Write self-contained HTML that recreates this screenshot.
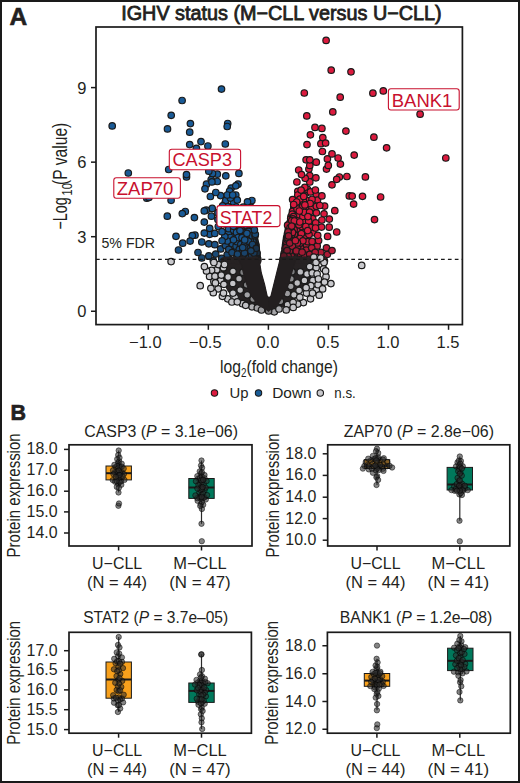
<!DOCTYPE html>
<html><head><meta charset="utf-8"><style>
html,body{margin:0;padding:0;background:#fff;}
body{width:520px;height:783px;overflow:hidden;}
svg{display:block;font-family:"Liberation Sans",sans-serif;}
</style></head><body>
<svg width="520" height="783" viewBox="0 0 520 783">
<rect x="1" y="1" width="518" height="781" fill="#fff" stroke="#1a1a1a" stroke-width="2"/>
<text x="9.5" y="24.5" font-size="24.5" fill="#231f20" font-weight="bold" stroke="#231f20" stroke-width="0.6">A</text>
<text x="121.2" y="20.2" font-size="20" fill="#231f20" textLength="320.5" lengthAdjust="spacingAndGlyphs" stroke="#231f20" stroke-width="0.8">IGHV status (M−CLL versus U−CLL)</text>
<circle cx="245.9" cy="217.1" r="3.25" fill="#195a96" stroke="#1a1a1a" stroke-width="1.2"/>
<circle cx="232.5" cy="206.4" r="3.25" fill="#195a96" stroke="#1a1a1a" stroke-width="1.2"/>
<circle cx="235.4" cy="250.0" r="3.25" fill="#194b79" stroke="#1a1a1a" stroke-width="1.2"/>
<circle cx="182.1" cy="100.5" r="3.25" fill="#195a96" stroke="#1a1a1a" stroke-width="1.2"/>
<circle cx="255.2" cy="243.2" r="3.25" fill="#193b5a" stroke="#1a1a1a" stroke-width="1.2"/>
<circle cx="225.2" cy="202.4" r="3.25" fill="#195a96" stroke="#1a1a1a" stroke-width="1.2"/>
<circle cx="208.8" cy="243.8" r="3.25" fill="#195389" stroke="#1a1a1a" stroke-width="1.2"/>
<circle cx="217.9" cy="212.7" r="3.25" fill="#195a96" stroke="#1a1a1a" stroke-width="1.2"/>
<circle cx="232.1" cy="243.7" r="3.25" fill="#195286" stroke="#1a1a1a" stroke-width="1.2"/>
<circle cx="196.4" cy="148.3" r="3.25" fill="#195a96" stroke="#1a1a1a" stroke-width="1.2"/>
<circle cx="251.9" cy="200.5" r="3.25" fill="#195a96" stroke="#1a1a1a" stroke-width="1.2"/>
<circle cx="228.4" cy="233.3" r="3.25" fill="#195a95" stroke="#1a1a1a" stroke-width="1.2"/>
<circle cx="241.7" cy="258.8" r="3.25" fill="#193f62" stroke="#1a1a1a" stroke-width="1.2"/>
<circle cx="251.0" cy="207.3" r="3.25" fill="#195a96" stroke="#1a1a1a" stroke-width="1.2"/>
<circle cx="234.3" cy="235.9" r="3.25" fill="#195994" stroke="#1a1a1a" stroke-width="1.2"/>
<circle cx="255.9" cy="245.9" r="3.25" fill="#1a3651" stroke="#1a1a1a" stroke-width="1.2"/>
<circle cx="189.7" cy="132.2" r="3.25" fill="#195a96" stroke="#1a1a1a" stroke-width="1.2"/>
<circle cx="236.1" cy="246.2" r="3.25" fill="#194f80" stroke="#1a1a1a" stroke-width="1.2"/>
<circle cx="248.7" cy="221.6" r="3.25" fill="#195a96" stroke="#1a1a1a" stroke-width="1.2"/>
<circle cx="146.8" cy="198.2" r="3.25" fill="#195a96" stroke="#1a1a1a" stroke-width="1.2"/>
<circle cx="240.6" cy="240.4" r="3.25" fill="#19558b" stroke="#1a1a1a" stroke-width="1.2"/>
<circle cx="251.1" cy="253.2" r="3.25" fill="#193e5f" stroke="#1a1a1a" stroke-width="1.2"/>
<circle cx="245.3" cy="220.1" r="3.25" fill="#195a96" stroke="#1a1a1a" stroke-width="1.2"/>
<circle cx="235.7" cy="223.2" r="3.25" fill="#195a96" stroke="#1a1a1a" stroke-width="1.2"/>
<circle cx="238.3" cy="219.2" r="3.25" fill="#195a96" stroke="#1a1a1a" stroke-width="1.2"/>
<circle cx="231.2" cy="188.1" r="3.25" fill="#195a96" stroke="#1a1a1a" stroke-width="1.2"/>
<circle cx="253.2" cy="222.7" r="3.25" fill="#195994" stroke="#1a1a1a" stroke-width="1.2"/>
<circle cx="224.8" cy="218.8" r="3.25" fill="#195a96" stroke="#1a1a1a" stroke-width="1.2"/>
<circle cx="217.3" cy="174.2" r="3.25" fill="#195a96" stroke="#1a1a1a" stroke-width="1.2"/>
<circle cx="220.6" cy="195.6" r="3.25" fill="#195a96" stroke="#1a1a1a" stroke-width="1.2"/>
<circle cx="223.9" cy="213.7" r="3.25" fill="#195a96" stroke="#1a1a1a" stroke-width="1.2"/>
<circle cx="252.9" cy="230.6" r="3.25" fill="#194f81" stroke="#1a1a1a" stroke-width="1.2"/>
<circle cx="254.2" cy="238.2" r="3.25" fill="#19446b" stroke="#1a1a1a" stroke-width="1.2"/>
<circle cx="211.2" cy="179.6" r="3.25" fill="#195a96" stroke="#1a1a1a" stroke-width="1.2"/>
<circle cx="171.1" cy="200.3" r="3.25" fill="#195a96" stroke="#1a1a1a" stroke-width="1.2"/>
<circle cx="217.9" cy="219.6" r="3.25" fill="#195a96" stroke="#1a1a1a" stroke-width="1.2"/>
<circle cx="252.1" cy="227.2" r="3.25" fill="#19548a" stroke="#1a1a1a" stroke-width="1.2"/>
<circle cx="171.2" cy="115.3" r="3.25" fill="#195a96" stroke="#1a1a1a" stroke-width="1.2"/>
<circle cx="251.8" cy="214.3" r="3.25" fill="#195a96" stroke="#1a1a1a" stroke-width="1.2"/>
<circle cx="248.2" cy="244.2" r="3.25" fill="#194d7e" stroke="#1a1a1a" stroke-width="1.2"/>
<circle cx="244.6" cy="250.2" r="3.25" fill="#194771" stroke="#1a1a1a" stroke-width="1.2"/>
<circle cx="228.9" cy="214.3" r="3.25" fill="#195a96" stroke="#1a1a1a" stroke-width="1.2"/>
<circle cx="236.6" cy="228.2" r="3.25" fill="#195994" stroke="#1a1a1a" stroke-width="1.2"/>
<circle cx="240.4" cy="235.1" r="3.25" fill="#195791" stroke="#1a1a1a" stroke-width="1.2"/>
<circle cx="228.6" cy="228.7" r="3.25" fill="#195a95" stroke="#1a1a1a" stroke-width="1.2"/>
<circle cx="233.7" cy="230.3" r="3.25" fill="#195995" stroke="#1a1a1a" stroke-width="1.2"/>
<circle cx="237.2" cy="241.7" r="3.25" fill="#195389" stroke="#1a1a1a" stroke-width="1.2"/>
<circle cx="243.3" cy="233.2" r="3.25" fill="#19578f" stroke="#1a1a1a" stroke-width="1.2"/>
<circle cx="241.8" cy="222.1" r="3.25" fill="#195a96" stroke="#1a1a1a" stroke-width="1.2"/>
<circle cx="245.4" cy="231.1" r="3.25" fill="#19568e" stroke="#1a1a1a" stroke-width="1.2"/>
<circle cx="201.0" cy="141.6" r="3.25" fill="#195a96" stroke="#1a1a1a" stroke-width="1.2"/>
<circle cx="240.8" cy="244.3" r="3.25" fill="#195082" stroke="#1a1a1a" stroke-width="1.2"/>
<circle cx="245.7" cy="247.1" r="3.25" fill="#194a78" stroke="#1a1a1a" stroke-width="1.2"/>
<circle cx="254.6" cy="239.6" r="3.25" fill="#194166" stroke="#1a1a1a" stroke-width="1.2"/>
<circle cx="249.1" cy="260.5" r="3.25" fill="#1a3957" stroke="#1a1a1a" stroke-width="1.2"/>
<circle cx="245.9" cy="228.4" r="3.25" fill="#195790" stroke="#1a1a1a" stroke-width="1.2"/>
<circle cx="128.3" cy="173.0" r="3.25" fill="#195a96" stroke="#1a1a1a" stroke-width="1.2"/>
<circle cx="242.9" cy="229.7" r="3.25" fill="#195891" stroke="#1a1a1a" stroke-width="1.2"/>
<circle cx="168.7" cy="169.5" r="3.25" fill="#195a96" stroke="#1a1a1a" stroke-width="1.2"/>
<circle cx="239.3" cy="249.3" r="3.25" fill="#194a77" stroke="#1a1a1a" stroke-width="1.2"/>
<circle cx="214.8" cy="244.7" r="3.25" fill="#195287" stroke="#1a1a1a" stroke-width="1.2"/>
<circle cx="256.4" cy="256.3" r="3.25" fill="#1a3248" stroke="#1a1a1a" stroke-width="1.2"/>
<circle cx="252.1" cy="239.3" r="3.25" fill="#194974" stroke="#1a1a1a" stroke-width="1.2"/>
<circle cx="209.7" cy="234.3" r="3.25" fill="#195a96" stroke="#1a1a1a" stroke-width="1.2"/>
<circle cx="252.7" cy="250.5" r="3.25" fill="#194165" stroke="#1a1a1a" stroke-width="1.2"/>
<circle cx="236.6" cy="258.2" r="3.25" fill="#194267" stroke="#1a1a1a" stroke-width="1.2"/>
<circle cx="206.5" cy="184.2" r="3.25" fill="#195a96" stroke="#1a1a1a" stroke-width="1.2"/>
<circle cx="250.4" cy="209.5" r="3.25" fill="#195a96" stroke="#1a1a1a" stroke-width="1.2"/>
<circle cx="252.0" cy="217.4" r="3.25" fill="#195a96" stroke="#1a1a1a" stroke-width="1.2"/>
<circle cx="148.9" cy="197.5" r="3.25" fill="#195a96" stroke="#1a1a1a" stroke-width="1.2"/>
<circle cx="257.4" cy="257.7" r="3.25" fill="#1a2d3f" stroke="#1a1a1a" stroke-width="1.2"/>
<circle cx="250.5" cy="234.6" r="3.25" fill="#194f81" stroke="#1a1a1a" stroke-width="1.2"/>
<circle cx="241.3" cy="253.2" r="3.25" fill="#19456d" stroke="#1a1a1a" stroke-width="1.2"/>
<circle cx="250.0" cy="228.6" r="3.25" fill="#19548b" stroke="#1a1a1a" stroke-width="1.2"/>
<circle cx="243.6" cy="226.5" r="3.25" fill="#195893" stroke="#1a1a1a" stroke-width="1.2"/>
<circle cx="252.9" cy="232.4" r="3.25" fill="#194d7d" stroke="#1a1a1a" stroke-width="1.2"/>
<circle cx="248.4" cy="227.4" r="3.25" fill="#19568f" stroke="#1a1a1a" stroke-width="1.2"/>
<circle cx="210.4" cy="196.5" r="3.25" fill="#195a96" stroke="#1a1a1a" stroke-width="1.2"/>
<circle cx="246.7" cy="225.7" r="3.25" fill="#195892" stroke="#1a1a1a" stroke-width="1.2"/>
<circle cx="251.0" cy="219.1" r="3.25" fill="#195a96" stroke="#1a1a1a" stroke-width="1.2"/>
<circle cx="248.6" cy="213.2" r="3.25" fill="#195a96" stroke="#1a1a1a" stroke-width="1.2"/>
<circle cx="242.4" cy="218.9" r="3.25" fill="#195a96" stroke="#1a1a1a" stroke-width="1.2"/>
<circle cx="233.5" cy="201.9" r="3.25" fill="#195a96" stroke="#1a1a1a" stroke-width="1.2"/>
<circle cx="249.7" cy="246.0" r="3.25" fill="#194a77" stroke="#1a1a1a" stroke-width="1.2"/>
<circle cx="204.3" cy="233.1" r="3.25" fill="#195a96" stroke="#1a1a1a" stroke-width="1.2"/>
<circle cx="256.3" cy="250.0" r="3.25" fill="#1a3045" stroke="#1a1a1a" stroke-width="1.2"/>
<circle cx="252.5" cy="234.0" r="3.25" fill="#194c7c" stroke="#1a1a1a" stroke-width="1.2"/>
<circle cx="250.6" cy="232.4" r="3.25" fill="#195184" stroke="#1a1a1a" stroke-width="1.2"/>
<circle cx="240.2" cy="226.3" r="3.25" fill="#195994" stroke="#1a1a1a" stroke-width="1.2"/>
<circle cx="247.4" cy="207.1" r="3.25" fill="#195a96" stroke="#1a1a1a" stroke-width="1.2"/>
<circle cx="255.8" cy="244.4" r="3.25" fill="#1a3955" stroke="#1a1a1a" stroke-width="1.2"/>
<circle cx="250.6" cy="237.8" r="3.25" fill="#194d7d" stroke="#1a1a1a" stroke-width="1.2"/>
<circle cx="248.7" cy="219.1" r="3.25" fill="#195a96" stroke="#1a1a1a" stroke-width="1.2"/>
<circle cx="204.3" cy="222.1" r="3.25" fill="#195a96" stroke="#1a1a1a" stroke-width="1.2"/>
<circle cx="205.0" cy="188.8" r="3.25" fill="#195a96" stroke="#1a1a1a" stroke-width="1.2"/>
<circle cx="213.3" cy="260.8" r="3.25" fill="#194771" stroke="#1a1a1a" stroke-width="1.2"/>
<circle cx="245.5" cy="256.5" r="3.25" fill="#193e60" stroke="#1a1a1a" stroke-width="1.2"/>
<circle cx="186.5" cy="177.0" r="3.25" fill="#195a96" stroke="#1a1a1a" stroke-width="1.2"/>
<circle cx="254.2" cy="236.8" r="3.25" fill="#19456e" stroke="#1a1a1a" stroke-width="1.2"/>
<circle cx="249.5" cy="224.0" r="3.25" fill="#195893" stroke="#1a1a1a" stroke-width="1.2"/>
<circle cx="212.2" cy="208.4" r="3.25" fill="#195a96" stroke="#1a1a1a" stroke-width="1.2"/>
<circle cx="189.7" cy="144.6" r="3.25" fill="#195a96" stroke="#1a1a1a" stroke-width="1.2"/>
<circle cx="236.5" cy="232.5" r="3.25" fill="#195994" stroke="#1a1a1a" stroke-width="1.2"/>
<circle cx="195.0" cy="235.2" r="3.25" fill="#195a96" stroke="#1a1a1a" stroke-width="1.2"/>
<circle cx="250.8" cy="244.2" r="3.25" fill="#194975" stroke="#1a1a1a" stroke-width="1.2"/>
<circle cx="221.5" cy="89.1" r="3.25" fill="#195a96" stroke="#1a1a1a" stroke-width="1.2"/>
<circle cx="185.3" cy="211.5" r="3.25" fill="#195a96" stroke="#1a1a1a" stroke-width="1.2"/>
<circle cx="241.6" cy="214.6" r="3.25" fill="#195a96" stroke="#1a1a1a" stroke-width="1.2"/>
<circle cx="225.8" cy="200.4" r="3.25" fill="#195a96" stroke="#1a1a1a" stroke-width="1.2"/>
<circle cx="256.8" cy="254.4" r="3.25" fill="#1a2d3f" stroke="#1a1a1a" stroke-width="1.2"/>
<circle cx="248.6" cy="235.4" r="3.25" fill="#195185" stroke="#1a1a1a" stroke-width="1.2"/>
<circle cx="230.4" cy="237.5" r="3.25" fill="#195893" stroke="#1a1a1a" stroke-width="1.2"/>
<circle cx="250.2" cy="226.4" r="3.25" fill="#19568e" stroke="#1a1a1a" stroke-width="1.2"/>
<circle cx="167.3" cy="216.2" r="3.25" fill="#195a96" stroke="#1a1a1a" stroke-width="1.2"/>
<circle cx="244.9" cy="214.2" r="3.25" fill="#195a96" stroke="#1a1a1a" stroke-width="1.2"/>
<circle cx="220.7" cy="248.9" r="3.25" fill="#194e7f" stroke="#1a1a1a" stroke-width="1.2"/>
<circle cx="249.6" cy="254.9" r="3.25" fill="#193d5e" stroke="#1a1a1a" stroke-width="1.2"/>
<circle cx="234.8" cy="217.2" r="3.25" fill="#195a96" stroke="#1a1a1a" stroke-width="1.2"/>
<circle cx="251.1" cy="230.2" r="3.25" fill="#195286" stroke="#1a1a1a" stroke-width="1.2"/>
<circle cx="254.9" cy="241.7" r="3.25" fill="#193e5f" stroke="#1a1a1a" stroke-width="1.2"/>
<circle cx="249.2" cy="239.1" r="3.25" fill="#194f80" stroke="#1a1a1a" stroke-width="1.2"/>
<circle cx="209.7" cy="228.3" r="3.25" fill="#195a96" stroke="#1a1a1a" stroke-width="1.2"/>
<circle cx="238.9" cy="173.4" r="3.25" fill="#195a96" stroke="#1a1a1a" stroke-width="1.2"/>
<circle cx="253.5" cy="254.9" r="3.25" fill="#1a3855" stroke="#1a1a1a" stroke-width="1.2"/>
<circle cx="254.3" cy="251.2" r="3.25" fill="#1a3a57" stroke="#1a1a1a" stroke-width="1.2"/>
<circle cx="245.1" cy="210.5" r="3.25" fill="#195a96" stroke="#1a1a1a" stroke-width="1.2"/>
<circle cx="215.8" cy="192.5" r="3.25" fill="#195a96" stroke="#1a1a1a" stroke-width="1.2"/>
<circle cx="249.7" cy="216.4" r="3.25" fill="#195a96" stroke="#1a1a1a" stroke-width="1.2"/>
<circle cx="253.7" cy="235.1" r="3.25" fill="#194974" stroke="#1a1a1a" stroke-width="1.2"/>
<circle cx="206.2" cy="210.2" r="3.25" fill="#195a96" stroke="#1a1a1a" stroke-width="1.2"/>
<circle cx="248.2" cy="250.4" r="3.25" fill="#19446c" stroke="#1a1a1a" stroke-width="1.2"/>
<circle cx="244.8" cy="244.0" r="3.25" fill="#194f80" stroke="#1a1a1a" stroke-width="1.2"/>
<circle cx="251.5" cy="242.3" r="3.25" fill="#194874" stroke="#1a1a1a" stroke-width="1.2"/>
<circle cx="255.8" cy="260.8" r="3.25" fill="#1a3045" stroke="#1a1a1a" stroke-width="1.2"/>
<circle cx="253.7" cy="242.6" r="3.25" fill="#194166" stroke="#1a1a1a" stroke-width="1.2"/>
<circle cx="212.5" cy="173.5" r="3.25" fill="#195a96" stroke="#1a1a1a" stroke-width="1.2"/>
<circle cx="224.5" cy="223.9" r="3.25" fill="#195a96" stroke="#1a1a1a" stroke-width="1.2"/>
<circle cx="235.8" cy="195.0" r="3.25" fill="#195a96" stroke="#1a1a1a" stroke-width="1.2"/>
<circle cx="251.6" cy="211.2" r="3.25" fill="#195a96" stroke="#1a1a1a" stroke-width="1.2"/>
<circle cx="182.7" cy="243.2" r="3.25" fill="#19548b" stroke="#1a1a1a" stroke-width="1.2"/>
<circle cx="239.4" cy="210.2" r="3.25" fill="#195a96" stroke="#1a1a1a" stroke-width="1.2"/>
<circle cx="225.8" cy="175.8" r="3.25" fill="#195a96" stroke="#1a1a1a" stroke-width="1.2"/>
<circle cx="253.7" cy="228.4" r="3.25" fill="#195184" stroke="#1a1a1a" stroke-width="1.2"/>
<circle cx="229.6" cy="191.2" r="3.25" fill="#195a96" stroke="#1a1a1a" stroke-width="1.2"/>
<circle cx="251.8" cy="257.9" r="3.25" fill="#1a3650" stroke="#1a1a1a" stroke-width="1.2"/>
<circle cx="254.1" cy="233.7" r="3.25" fill="#194976" stroke="#1a1a1a" stroke-width="1.2"/>
<circle cx="176.0" cy="236.3" r="3.25" fill="#195a96" stroke="#1a1a1a" stroke-width="1.2"/>
<circle cx="254.4" cy="245.1" r="3.25" fill="#193c5d" stroke="#1a1a1a" stroke-width="1.2"/>
<circle cx="254.8" cy="249.2" r="3.25" fill="#1a3855" stroke="#1a1a1a" stroke-width="1.2"/>
<circle cx="254.5" cy="256.3" r="3.25" fill="#1a354e" stroke="#1a1a1a" stroke-width="1.2"/>
<circle cx="192.3" cy="235.6" r="3.25" fill="#195a96" stroke="#1a1a1a" stroke-width="1.2"/>
<circle cx="227.7" cy="123.5" r="3.25" fill="#195a96" stroke="#1a1a1a" stroke-width="1.2"/>
<circle cx="233.1" cy="211.7" r="3.25" fill="#195a96" stroke="#1a1a1a" stroke-width="1.2"/>
<circle cx="230.4" cy="198.1" r="3.25" fill="#195a96" stroke="#1a1a1a" stroke-width="1.2"/>
<circle cx="217.3" cy="181.5" r="3.25" fill="#195a96" stroke="#1a1a1a" stroke-width="1.2"/>
<circle cx="255.5" cy="258.6" r="3.25" fill="#1a3146" stroke="#1a1a1a" stroke-width="1.2"/>
<circle cx="252.6" cy="237.3" r="3.25" fill="#194975" stroke="#1a1a1a" stroke-width="1.2"/>
<circle cx="247.2" cy="253.3" r="3.25" fill="#194166" stroke="#1a1a1a" stroke-width="1.2"/>
<circle cx="236.4" cy="207.0" r="3.25" fill="#195a96" stroke="#1a1a1a" stroke-width="1.2"/>
<circle cx="244.5" cy="236.1" r="3.25" fill="#19558c" stroke="#1a1a1a" stroke-width="1.2"/>
<circle cx="190.4" cy="123.6" r="3.25" fill="#195a96" stroke="#1a1a1a" stroke-width="1.2"/>
<circle cx="211.4" cy="216.2" r="3.25" fill="#195a96" stroke="#1a1a1a" stroke-width="1.2"/>
<circle cx="247.9" cy="247.8" r="3.25" fill="#194874" stroke="#1a1a1a" stroke-width="1.2"/>
<circle cx="225.5" cy="245.4" r="3.25" fill="#195185" stroke="#1a1a1a" stroke-width="1.2"/>
<circle cx="227.3" cy="195.0" r="3.25" fill="#195a96" stroke="#1a1a1a" stroke-width="1.2"/>
<circle cx="247.4" cy="237.4" r="3.25" fill="#195286" stroke="#1a1a1a" stroke-width="1.2"/>
<circle cx="251.5" cy="223.6" r="3.25" fill="#195892" stroke="#1a1a1a" stroke-width="1.2"/>
<circle cx="227.3" cy="241.0" r="3.25" fill="#19558c" stroke="#1a1a1a" stroke-width="1.2"/>
<circle cx="230.0" cy="259.7" r="3.25" fill="#19446c" stroke="#1a1a1a" stroke-width="1.2"/>
<circle cx="250.4" cy="248.1" r="3.25" fill="#194670" stroke="#1a1a1a" stroke-width="1.2"/>
<circle cx="252.9" cy="241.3" r="3.25" fill="#19456d" stroke="#1a1a1a" stroke-width="1.2"/>
<circle cx="218.3" cy="226.5" r="3.25" fill="#195a96" stroke="#1a1a1a" stroke-width="1.2"/>
<circle cx="227.2" cy="254.7" r="3.25" fill="#194873" stroke="#1a1a1a" stroke-width="1.2"/>
<circle cx="255.8" cy="251.2" r="3.25" fill="#1a3249" stroke="#1a1a1a" stroke-width="1.2"/>
<circle cx="227.2" cy="126.5" r="3.25" fill="#195a96" stroke="#1a1a1a" stroke-width="1.2"/>
<circle cx="211.9" cy="181.9" r="3.25" fill="#195a96" stroke="#1a1a1a" stroke-width="1.2"/>
<circle cx="255.3" cy="253.8" r="3.25" fill="#1a364f" stroke="#1a1a1a" stroke-width="1.2"/>
<circle cx="238.2" cy="237.5" r="3.25" fill="#195892" stroke="#1a1a1a" stroke-width="1.2"/>
<circle cx="233.4" cy="226.3" r="3.25" fill="#195a95" stroke="#1a1a1a" stroke-width="1.2"/>
<circle cx="238.0" cy="184.2" r="3.25" fill="#195a96" stroke="#1a1a1a" stroke-width="1.2"/>
<circle cx="254.2" cy="232.0" r="3.25" fill="#194b79" stroke="#1a1a1a" stroke-width="1.2"/>
<circle cx="257.1" cy="253.0" r="3.25" fill="#1a2d3f" stroke="#1a1a1a" stroke-width="1.2"/>
<circle cx="242.0" cy="237.6" r="3.25" fill="#19568f" stroke="#1a1a1a" stroke-width="1.2"/>
<circle cx="233.5" cy="239.8" r="3.25" fill="#19568e" stroke="#1a1a1a" stroke-width="1.2"/>
<circle cx="250.3" cy="240.6" r="3.25" fill="#194c7b" stroke="#1a1a1a" stroke-width="1.2"/>
<circle cx="257.6" cy="259.2" r="3.25" fill="#1a2d3f" stroke="#1a1a1a" stroke-width="1.2"/>
<circle cx="244.7" cy="260.4" r="3.25" fill="#193d5e" stroke="#1a1a1a" stroke-width="1.2"/>
<circle cx="198.0" cy="252.5" r="3.25" fill="#194c7b" stroke="#1a1a1a" stroke-width="1.2"/>
<circle cx="253.1" cy="248.5" r="3.25" fill="#194063" stroke="#1a1a1a" stroke-width="1.2"/>
<circle cx="252.9" cy="219.7" r="3.25" fill="#195a96" stroke="#1a1a1a" stroke-width="1.2"/>
<circle cx="221.7" cy="258.4" r="3.25" fill="#19466f" stroke="#1a1a1a" stroke-width="1.2"/>
<circle cx="190.1" cy="241.1" r="3.25" fill="#19568e" stroke="#1a1a1a" stroke-width="1.2"/>
<circle cx="228.8" cy="249.3" r="3.25" fill="#194d7c" stroke="#1a1a1a" stroke-width="1.2"/>
<circle cx="252.9" cy="246.4" r="3.25" fill="#194267" stroke="#1a1a1a" stroke-width="1.2"/>
<circle cx="249.0" cy="257.7" r="3.25" fill="#1a3a57" stroke="#1a1a1a" stroke-width="1.2"/>
<circle cx="232.0" cy="252.6" r="3.25" fill="#194975" stroke="#1a1a1a" stroke-width="1.2"/>
<circle cx="253.7" cy="258.0" r="3.25" fill="#1a334b" stroke="#1a1a1a" stroke-width="1.2"/>
<circle cx="214.8" cy="233.4" r="3.25" fill="#195a96" stroke="#1a1a1a" stroke-width="1.2"/>
<circle cx="238.5" cy="214.8" r="3.25" fill="#195a96" stroke="#1a1a1a" stroke-width="1.2"/>
<circle cx="248.4" cy="241.1" r="3.25" fill="#194f81" stroke="#1a1a1a" stroke-width="1.2"/>
<circle cx="254.7" cy="246.9" r="3.25" fill="#1a3a58" stroke="#1a1a1a" stroke-width="1.2"/>
<circle cx="251.6" cy="255.8" r="3.25" fill="#1a3957" stroke="#1a1a1a" stroke-width="1.2"/>
<circle cx="253.9" cy="253.0" r="3.25" fill="#193b5a" stroke="#1a1a1a" stroke-width="1.2"/>
<circle cx="252.5" cy="244.5" r="3.25" fill="#19446b" stroke="#1a1a1a" stroke-width="1.2"/>
<circle cx="227.7" cy="206.7" r="3.25" fill="#195a96" stroke="#1a1a1a" stroke-width="1.2"/>
<circle cx="237.3" cy="200.1" r="3.25" fill="#195a96" stroke="#1a1a1a" stroke-width="1.2"/>
<circle cx="208.8" cy="255.9" r="3.25" fill="#194975" stroke="#1a1a1a" stroke-width="1.2"/>
<circle cx="224.8" cy="236.6" r="3.25" fill="#195995" stroke="#1a1a1a" stroke-width="1.2"/>
<circle cx="204.3" cy="210.9" r="3.25" fill="#195a96" stroke="#1a1a1a" stroke-width="1.2"/>
<circle cx="248.6" cy="231.4" r="3.25" fill="#19548a" stroke="#1a1a1a" stroke-width="1.2"/>
<circle cx="248.0" cy="209.8" r="3.25" fill="#195a96" stroke="#1a1a1a" stroke-width="1.2"/>
<circle cx="222.6" cy="205.9" r="3.25" fill="#195a96" stroke="#1a1a1a" stroke-width="1.2"/>
<circle cx="250.9" cy="221.1" r="3.25" fill="#195a96" stroke="#1a1a1a" stroke-width="1.2"/>
<circle cx="207.9" cy="146.0" r="3.25" fill="#195a96" stroke="#1a1a1a" stroke-width="1.2"/>
<circle cx="244.4" cy="253.0" r="3.25" fill="#19436a" stroke="#1a1a1a" stroke-width="1.2"/>
<circle cx="112.2" cy="125.9" r="3.25" fill="#195a96" stroke="#1a1a1a" stroke-width="1.2"/>
<circle cx="235.8" cy="185.8" r="3.25" fill="#195a96" stroke="#1a1a1a" stroke-width="1.2"/>
<circle cx="252.1" cy="235.7" r="3.25" fill="#194c7a" stroke="#1a1a1a" stroke-width="1.2"/>
<circle cx="247.5" cy="201.8" r="3.25" fill="#195a96" stroke="#1a1a1a" stroke-width="1.2"/>
<circle cx="194.4" cy="217.6" r="3.25" fill="#195a96" stroke="#1a1a1a" stroke-width="1.2"/>
<circle cx="232.7" cy="195.0" r="3.25" fill="#195a96" stroke="#1a1a1a" stroke-width="1.2"/>
<circle cx="178.5" cy="250.0" r="3.25" fill="#194f80" stroke="#1a1a1a" stroke-width="1.2"/>
<circle cx="208.8" cy="171.2" r="3.25" fill="#195a96" stroke="#1a1a1a" stroke-width="1.2"/>
<circle cx="251.7" cy="260.8" r="3.25" fill="#1a3651" stroke="#1a1a1a" stroke-width="1.2"/>
<circle cx="243.2" cy="207.2" r="3.25" fill="#195a96" stroke="#1a1a1a" stroke-width="1.2"/>
<circle cx="182.3" cy="213.6" r="3.25" fill="#195a96" stroke="#1a1a1a" stroke-width="1.2"/>
<circle cx="254.0" cy="260.0" r="3.25" fill="#1a334b" stroke="#1a1a1a" stroke-width="1.2"/>
<circle cx="242.7" cy="247.6" r="3.25" fill="#194b79" stroke="#1a1a1a" stroke-width="1.2"/>
<circle cx="255.0" cy="235.7" r="3.25" fill="#19466e" stroke="#1a1a1a" stroke-width="1.2"/>
<circle cx="222.1" cy="240.8" r="3.25" fill="#19568d" stroke="#1a1a1a" stroke-width="1.2"/>
<circle cx="244.7" cy="239.9" r="3.25" fill="#19548a" stroke="#1a1a1a" stroke-width="1.2"/>
<circle cx="186.5" cy="174.6" r="3.25" fill="#195a96" stroke="#1a1a1a" stroke-width="1.2"/>
<circle cx="257.5" cy="260.6" r="3.25" fill="#1a2d3f" stroke="#1a1a1a" stroke-width="1.2"/>
<circle cx="256.2" cy="248.3" r="3.25" fill="#1a334a" stroke="#1a1a1a" stroke-width="1.2"/>
<circle cx="230.1" cy="221.1" r="3.25" fill="#195a96" stroke="#1a1a1a" stroke-width="1.2"/>
<circle cx="237.5" cy="254.1" r="3.25" fill="#19466f" stroke="#1a1a1a" stroke-width="1.2"/>
<circle cx="225.3" cy="144.0" r="3.25" fill="#195a96" stroke="#1a1a1a" stroke-width="1.2"/>
<circle cx="222.0" cy="231.7" r="3.25" fill="#195a96" stroke="#1a1a1a" stroke-width="1.2"/>
<circle cx="240.0" cy="230.6" r="3.25" fill="#195893" stroke="#1a1a1a" stroke-width="1.2"/>
<circle cx="201.8" cy="242.0" r="3.25" fill="#19558c" stroke="#1a1a1a" stroke-width="1.2"/>
<circle cx="244.4" cy="223.6" r="3.25" fill="#195995" stroke="#1a1a1a" stroke-width="1.2"/>
<circle cx="201.8" cy="258.0" r="3.25" fill="#194872" stroke="#1a1a1a" stroke-width="1.2"/>
<circle cx="253.5" cy="225.7" r="3.25" fill="#19548b" stroke="#1a1a1a" stroke-width="1.2"/>
<circle cx="167.5" cy="128.9" r="3.25" fill="#195a96" stroke="#1a1a1a" stroke-width="1.2"/>
<circle cx="255.3" cy="234.3" r="3.25" fill="#194872" stroke="#1a1a1a" stroke-width="1.2"/>
<circle cx="215.7" cy="254.1" r="3.25" fill="#194a77" stroke="#1a1a1a" stroke-width="1.2"/>
<circle cx="254.4" cy="230.0" r="3.25" fill="#194e7f" stroke="#1a1a1a" stroke-width="1.2"/>
<circle cx="250.9" cy="250.8" r="3.25" fill="#194267" stroke="#1a1a1a" stroke-width="1.2"/>
<circle cx="246.9" cy="233.3" r="3.25" fill="#19548b" stroke="#1a1a1a" stroke-width="1.2"/>
<circle cx="247.4" cy="223.3" r="3.25" fill="#195994" stroke="#1a1a1a" stroke-width="1.2"/>
<circle cx="309.8" cy="175.6" r="3.25" fill="#dc1a3e" stroke="#1a1a1a" stroke-width="1.2"/>
<circle cx="289.7" cy="234.9" r="3.25" fill="#a81a34" stroke="#1a1a1a" stroke-width="1.2"/>
<circle cx="308.9" cy="169.1" r="3.25" fill="#dc1a3e" stroke="#1a1a1a" stroke-width="1.2"/>
<circle cx="288.0" cy="254.2" r="3.25" fill="#811a2d" stroke="#1a1a1a" stroke-width="1.2"/>
<circle cx="295.8" cy="211.4" r="3.25" fill="#dc1a3e" stroke="#1a1a1a" stroke-width="1.2"/>
<circle cx="306.8" cy="115.9" r="3.25" fill="#dc1a3e" stroke="#1a1a1a" stroke-width="1.2"/>
<circle cx="284.4" cy="259.1" r="3.25" fill="#631a27" stroke="#1a1a1a" stroke-width="1.2"/>
<circle cx="306.8" cy="200.3" r="3.25" fill="#dc1a3e" stroke="#1a1a1a" stroke-width="1.2"/>
<circle cx="285.1" cy="252.3" r="3.25" fill="#671a28" stroke="#1a1a1a" stroke-width="1.2"/>
<circle cx="339.4" cy="177.0" r="3.25" fill="#dc1a3e" stroke="#1a1a1a" stroke-width="1.2"/>
<circle cx="291.0" cy="216.7" r="3.25" fill="#d61a3d" stroke="#1a1a1a" stroke-width="1.2"/>
<circle cx="320.9" cy="143.7" r="3.25" fill="#dc1a3e" stroke="#1a1a1a" stroke-width="1.2"/>
<circle cx="287.3" cy="244.1" r="3.25" fill="#851a2e" stroke="#1a1a1a" stroke-width="1.2"/>
<circle cx="312.7" cy="218.7" r="3.25" fill="#db1a3e" stroke="#1a1a1a" stroke-width="1.2"/>
<circle cx="296.8" cy="221.1" r="3.25" fill="#d31a3c" stroke="#1a1a1a" stroke-width="1.2"/>
<circle cx="340.4" cy="164.1" r="3.25" fill="#dc1a3e" stroke="#1a1a1a" stroke-width="1.2"/>
<circle cx="327.4" cy="158.9" r="3.25" fill="#dc1a3e" stroke="#1a1a1a" stroke-width="1.2"/>
<circle cx="332.0" cy="184.8" r="3.25" fill="#dc1a3e" stroke="#1a1a1a" stroke-width="1.2"/>
<circle cx="286.6" cy="237.9" r="3.25" fill="#8a1a2f" stroke="#1a1a1a" stroke-width="1.2"/>
<circle cx="288.3" cy="230.1" r="3.25" fill="#a61a34" stroke="#1a1a1a" stroke-width="1.2"/>
<circle cx="306.1" cy="193.1" r="3.25" fill="#dc1a3e" stroke="#1a1a1a" stroke-width="1.2"/>
<circle cx="302.2" cy="219.8" r="3.25" fill="#d91a3d" stroke="#1a1a1a" stroke-width="1.2"/>
<circle cx="294.3" cy="223.8" r="3.25" fill="#cb1a3b" stroke="#1a1a1a" stroke-width="1.2"/>
<circle cx="293.5" cy="236.5" r="3.25" fill="#bc1a38" stroke="#1a1a1a" stroke-width="1.2"/>
<circle cx="316.4" cy="195.1" r="3.25" fill="#dc1a3e" stroke="#1a1a1a" stroke-width="1.2"/>
<circle cx="287.4" cy="234.2" r="3.25" fill="#971a31" stroke="#1a1a1a" stroke-width="1.2"/>
<circle cx="290.8" cy="236.9" r="3.25" fill="#ad1a35" stroke="#1a1a1a" stroke-width="1.2"/>
<circle cx="289.2" cy="233.5" r="3.25" fill="#a51a34" stroke="#1a1a1a" stroke-width="1.2"/>
<circle cx="349.3" cy="195.9" r="3.25" fill="#dc1a3e" stroke="#1a1a1a" stroke-width="1.2"/>
<circle cx="288.7" cy="259.6" r="3.25" fill="#751a2b" stroke="#1a1a1a" stroke-width="1.2"/>
<circle cx="315.7" cy="222.8" r="3.25" fill="#db1a3e" stroke="#1a1a1a" stroke-width="1.2"/>
<circle cx="298.5" cy="204.2" r="3.25" fill="#dc1a3e" stroke="#1a1a1a" stroke-width="1.2"/>
<circle cx="306.6" cy="245.6" r="3.25" fill="#bb1a38" stroke="#1a1a1a" stroke-width="1.2"/>
<circle cx="340.2" cy="97.2" r="3.25" fill="#dc1a3e" stroke="#1a1a1a" stroke-width="1.2"/>
<circle cx="286.3" cy="257.1" r="3.25" fill="#6f1a2a" stroke="#1a1a1a" stroke-width="1.2"/>
<circle cx="320.9" cy="252.4" r="3.25" fill="#b11a36" stroke="#1a1a1a" stroke-width="1.2"/>
<circle cx="285.5" cy="245.4" r="3.25" fill="#6f1a2a" stroke="#1a1a1a" stroke-width="1.2"/>
<circle cx="286.3" cy="240.4" r="3.25" fill="#811a2d" stroke="#1a1a1a" stroke-width="1.2"/>
<circle cx="294.7" cy="246.7" r="3.25" fill="#ac1a35" stroke="#1a1a1a" stroke-width="1.2"/>
<circle cx="289.5" cy="252.9" r="3.25" fill="#8b1a2f" stroke="#1a1a1a" stroke-width="1.2"/>
<circle cx="289.9" cy="247.8" r="3.25" fill="#9e1a33" stroke="#1a1a1a" stroke-width="1.2"/>
<circle cx="304.3" cy="93.0" r="3.25" fill="#dc1a3e" stroke="#1a1a1a" stroke-width="1.2"/>
<circle cx="297.3" cy="234.1" r="3.25" fill="#cb1a3b" stroke="#1a1a1a" stroke-width="1.2"/>
<circle cx="295.4" cy="215.4" r="3.25" fill="#db1a3e" stroke="#1a1a1a" stroke-width="1.2"/>
<circle cx="300.8" cy="248.5" r="3.25" fill="#af1a36" stroke="#1a1a1a" stroke-width="1.2"/>
<circle cx="324.4" cy="260.9" r="3.25" fill="#a51a34" stroke="#1a1a1a" stroke-width="1.2"/>
<circle cx="302.2" cy="258.4" r="3.25" fill="#951a31" stroke="#1a1a1a" stroke-width="1.2"/>
<circle cx="321.5" cy="227.1" r="3.25" fill="#dc1a3e" stroke="#1a1a1a" stroke-width="1.2"/>
<circle cx="351.0" cy="71.8" r="3.25" fill="#dc1a3e" stroke="#1a1a1a" stroke-width="1.2"/>
<circle cx="305.3" cy="233.8" r="3.25" fill="#d61a3d" stroke="#1a1a1a" stroke-width="1.2"/>
<circle cx="292.8" cy="227.7" r="3.25" fill="#c21a39" stroke="#1a1a1a" stroke-width="1.2"/>
<circle cx="297.0" cy="218.2" r="3.25" fill="#d71a3d" stroke="#1a1a1a" stroke-width="1.2"/>
<circle cx="295.5" cy="226.0" r="3.25" fill="#cc1a3b" stroke="#1a1a1a" stroke-width="1.2"/>
<circle cx="307.7" cy="208.7" r="3.25" fill="#dc1a3e" stroke="#1a1a1a" stroke-width="1.2"/>
<circle cx="291.9" cy="230.3" r="3.25" fill="#bb1a38" stroke="#1a1a1a" stroke-width="1.2"/>
<circle cx="311.9" cy="208.1" r="3.25" fill="#dc1a3e" stroke="#1a1a1a" stroke-width="1.2"/>
<circle cx="283.4" cy="260.6" r="3.25" fill="#5e1a27" stroke="#1a1a1a" stroke-width="1.2"/>
<circle cx="305.2" cy="238.1" r="3.25" fill="#d01a3c" stroke="#1a1a1a" stroke-width="1.2"/>
<circle cx="307.6" cy="189.4" r="3.25" fill="#dc1a3e" stroke="#1a1a1a" stroke-width="1.2"/>
<circle cx="316.4" cy="212.8" r="3.25" fill="#dc1a3e" stroke="#1a1a1a" stroke-width="1.2"/>
<circle cx="292.0" cy="223.9" r="3.25" fill="#c51a3a" stroke="#1a1a1a" stroke-width="1.2"/>
<circle cx="287.3" cy="236.6" r="3.25" fill="#901a30" stroke="#1a1a1a" stroke-width="1.2"/>
<circle cx="286.9" cy="259.6" r="3.25" fill="#6e1a2a" stroke="#1a1a1a" stroke-width="1.2"/>
<circle cx="303.1" cy="230.2" r="3.25" fill="#d51a3d" stroke="#1a1a1a" stroke-width="1.2"/>
<circle cx="298.1" cy="255.6" r="3.25" fill="#961a31" stroke="#1a1a1a" stroke-width="1.2"/>
<circle cx="317.5" cy="200.1" r="3.25" fill="#dc1a3e" stroke="#1a1a1a" stroke-width="1.2"/>
<circle cx="297.9" cy="245.7" r="3.25" fill="#b41a37" stroke="#1a1a1a" stroke-width="1.2"/>
<circle cx="292.6" cy="249.0" r="3.25" fill="#a11a33" stroke="#1a1a1a" stroke-width="1.2"/>
<circle cx="293.0" cy="239.0" r="3.25" fill="#b81a37" stroke="#1a1a1a" stroke-width="1.2"/>
<circle cx="297.7" cy="236.8" r="3.25" fill="#ca1a3b" stroke="#1a1a1a" stroke-width="1.2"/>
<circle cx="352.2" cy="196.1" r="3.25" fill="#dc1a3e" stroke="#1a1a1a" stroke-width="1.2"/>
<circle cx="310.4" cy="191.9" r="3.25" fill="#dc1a3e" stroke="#1a1a1a" stroke-width="1.2"/>
<circle cx="316.3" cy="206.3" r="3.25" fill="#dc1a3e" stroke="#1a1a1a" stroke-width="1.2"/>
<circle cx="292.4" cy="260.8" r="3.25" fill="#821a2d" stroke="#1a1a1a" stroke-width="1.2"/>
<circle cx="295.8" cy="231.6" r="3.25" fill="#c81a3a" stroke="#1a1a1a" stroke-width="1.2"/>
<circle cx="294.4" cy="255.1" r="3.25" fill="#901a30" stroke="#1a1a1a" stroke-width="1.2"/>
<circle cx="300.3" cy="243.1" r="3.25" fill="#be1a39" stroke="#1a1a1a" stroke-width="1.2"/>
<circle cx="309.8" cy="182.0" r="3.25" fill="#dc1a3e" stroke="#1a1a1a" stroke-width="1.2"/>
<circle cx="298.6" cy="214.6" r="3.25" fill="#dc1a3e" stroke="#1a1a1a" stroke-width="1.2"/>
<circle cx="301.3" cy="205.3" r="3.25" fill="#dc1a3e" stroke="#1a1a1a" stroke-width="1.2"/>
<circle cx="290.7" cy="218.8" r="3.25" fill="#ce1a3b" stroke="#1a1a1a" stroke-width="1.2"/>
<circle cx="293.8" cy="206.8" r="3.25" fill="#dc1a3e" stroke="#1a1a1a" stroke-width="1.2"/>
<circle cx="304.6" cy="222.2" r="3.25" fill="#d91a3d" stroke="#1a1a1a" stroke-width="1.2"/>
<circle cx="290.1" cy="224.4" r="3.25" fill="#bc1a38" stroke="#1a1a1a" stroke-width="1.2"/>
<circle cx="288.9" cy="226.2" r="3.25" fill="#b41a37" stroke="#1a1a1a" stroke-width="1.2"/>
<circle cx="386.6" cy="147.8" r="3.25" fill="#dc1a3e" stroke="#1a1a1a" stroke-width="1.2"/>
<circle cx="297.0" cy="198.4" r="3.25" fill="#dc1a3e" stroke="#1a1a1a" stroke-width="1.2"/>
<circle cx="327.4" cy="254.3" r="3.25" fill="#ae1a36" stroke="#1a1a1a" stroke-width="1.2"/>
<circle cx="307.0" cy="144.6" r="3.25" fill="#dc1a3e" stroke="#1a1a1a" stroke-width="1.2"/>
<circle cx="290.9" cy="258.8" r="3.25" fill="#7d1a2c" stroke="#1a1a1a" stroke-width="1.2"/>
<circle cx="285.6" cy="254.1" r="3.25" fill="#741a2b" stroke="#1a1a1a" stroke-width="1.2"/>
<circle cx="315.9" cy="177.8" r="3.25" fill="#dc1a3e" stroke="#1a1a1a" stroke-width="1.2"/>
<circle cx="362.5" cy="196.3" r="3.25" fill="#dc1a3e" stroke="#1a1a1a" stroke-width="1.2"/>
<circle cx="306.1" cy="159.8" r="3.25" fill="#dc1a3e" stroke="#1a1a1a" stroke-width="1.2"/>
<circle cx="374.5" cy="219.6" r="3.25" fill="#dc1a3e" stroke="#1a1a1a" stroke-width="1.2"/>
<circle cx="287.6" cy="241.1" r="3.25" fill="#8b1a2f" stroke="#1a1a1a" stroke-width="1.2"/>
<circle cx="338.1" cy="158.0" r="3.25" fill="#dc1a3e" stroke="#1a1a1a" stroke-width="1.2"/>
<circle cx="313.0" cy="232.7" r="3.25" fill="#da1a3e" stroke="#1a1a1a" stroke-width="1.2"/>
<circle cx="308.7" cy="221.2" r="3.25" fill="#da1a3e" stroke="#1a1a1a" stroke-width="1.2"/>
<circle cx="302.9" cy="216.4" r="3.25" fill="#db1a3e" stroke="#1a1a1a" stroke-width="1.2"/>
<circle cx="298.3" cy="229.1" r="3.25" fill="#cf1a3c" stroke="#1a1a1a" stroke-width="1.2"/>
<circle cx="305.2" cy="178.3" r="3.25" fill="#dc1a3e" stroke="#1a1a1a" stroke-width="1.2"/>
<circle cx="285.4" cy="255.7" r="3.25" fill="#711a2a" stroke="#1a1a1a" stroke-width="1.2"/>
<circle cx="285.3" cy="250.3" r="3.25" fill="#641a28" stroke="#1a1a1a" stroke-width="1.2"/>
<circle cx="298.7" cy="170.0" r="3.25" fill="#dc1a3e" stroke="#1a1a1a" stroke-width="1.2"/>
<circle cx="295.0" cy="238.1" r="3.25" fill="#c21a39" stroke="#1a1a1a" stroke-width="1.2"/>
<circle cx="324.0" cy="213.8" r="3.25" fill="#dc1a3e" stroke="#1a1a1a" stroke-width="1.2"/>
<circle cx="329.3" cy="219.1" r="3.25" fill="#dc1a3e" stroke="#1a1a1a" stroke-width="1.2"/>
<circle cx="306.3" cy="250.2" r="3.25" fill="#af1a36" stroke="#1a1a1a" stroke-width="1.2"/>
<circle cx="310.4" cy="227.3" r="3.25" fill="#da1a3e" stroke="#1a1a1a" stroke-width="1.2"/>
<circle cx="303.0" cy="208.8" r="3.25" fill="#dc1a3e" stroke="#1a1a1a" stroke-width="1.2"/>
<circle cx="291.9" cy="252.3" r="3.25" fill="#931a31" stroke="#1a1a1a" stroke-width="1.2"/>
<circle cx="299.9" cy="208.0" r="3.25" fill="#dc1a3e" stroke="#1a1a1a" stroke-width="1.2"/>
<circle cx="283.6" cy="257.8" r="3.25" fill="#5e1a27" stroke="#1a1a1a" stroke-width="1.2"/>
<circle cx="354.2" cy="155.1" r="3.25" fill="#dc1a3e" stroke="#1a1a1a" stroke-width="1.2"/>
<circle cx="301.9" cy="226.6" r="3.25" fill="#d51a3d" stroke="#1a1a1a" stroke-width="1.2"/>
<circle cx="292.8" cy="244.0" r="3.25" fill="#b41a37" stroke="#1a1a1a" stroke-width="1.2"/>
<circle cx="445.8" cy="158.0" r="3.25" fill="#dc1a3e" stroke="#1a1a1a" stroke-width="1.2"/>
<circle cx="294.1" cy="209.2" r="3.25" fill="#dc1a3e" stroke="#1a1a1a" stroke-width="1.2"/>
<circle cx="334.8" cy="210.7" r="3.25" fill="#dc1a3e" stroke="#1a1a1a" stroke-width="1.2"/>
<circle cx="293.5" cy="257.6" r="3.25" fill="#851a2e" stroke="#1a1a1a" stroke-width="1.2"/>
<circle cx="326.1" cy="40.4" r="3.25" fill="#dc1a3e" stroke="#1a1a1a" stroke-width="1.2"/>
<circle cx="286.2" cy="249.0" r="3.25" fill="#731a2b" stroke="#1a1a1a" stroke-width="1.2"/>
<circle cx="317.2" cy="245.9" r="3.25" fill="#bf1a39" stroke="#1a1a1a" stroke-width="1.2"/>
<circle cx="326.5" cy="247.8" r="3.25" fill="#bd1a38" stroke="#1a1a1a" stroke-width="1.2"/>
<circle cx="336.7" cy="232.0" r="3.25" fill="#dc1a3e" stroke="#1a1a1a" stroke-width="1.2"/>
<circle cx="283.1" cy="259.2" r="3.25" fill="#5e1a27" stroke="#1a1a1a" stroke-width="1.2"/>
<circle cx="372.9" cy="93.2" r="3.25" fill="#dc1a3e" stroke="#1a1a1a" stroke-width="1.2"/>
<circle cx="287.0" cy="246.1" r="3.25" fill="#801a2d" stroke="#1a1a1a" stroke-width="1.2"/>
<circle cx="297.8" cy="191.3" r="3.25" fill="#dc1a3e" stroke="#1a1a1a" stroke-width="1.2"/>
<circle cx="286.6" cy="252.1" r="3.25" fill="#7c1a2c" stroke="#1a1a1a" stroke-width="1.2"/>
<circle cx="307.9" cy="241.7" r="3.25" fill="#c71a3a" stroke="#1a1a1a" stroke-width="1.2"/>
<circle cx="289.4" cy="237.6" r="3.25" fill="#a11a33" stroke="#1a1a1a" stroke-width="1.2"/>
<circle cx="336.7" cy="179.3" r="3.25" fill="#dc1a3e" stroke="#1a1a1a" stroke-width="1.2"/>
<circle cx="292.5" cy="211.4" r="3.25" fill="#dc1a3e" stroke="#1a1a1a" stroke-width="1.2"/>
<circle cx="304.8" cy="187.3" r="3.25" fill="#dc1a3e" stroke="#1a1a1a" stroke-width="1.2"/>
<circle cx="317.7" cy="260.3" r="3.25" fill="#a31a33" stroke="#1a1a1a" stroke-width="1.2"/>
<circle cx="304.8" cy="255.2" r="3.25" fill="#a01a33" stroke="#1a1a1a" stroke-width="1.2"/>
<circle cx="332.0" cy="153.9" r="3.25" fill="#dc1a3e" stroke="#1a1a1a" stroke-width="1.2"/>
<circle cx="315.0" cy="127.4" r="3.25" fill="#dc1a3e" stroke="#1a1a1a" stroke-width="1.2"/>
<circle cx="303.5" cy="201.4" r="3.25" fill="#dc1a3e" stroke="#1a1a1a" stroke-width="1.2"/>
<circle cx="312.0" cy="199.4" r="3.25" fill="#dc1a3e" stroke="#1a1a1a" stroke-width="1.2"/>
<circle cx="291.3" cy="256.0" r="3.25" fill="#851a2e" stroke="#1a1a1a" stroke-width="1.2"/>
<circle cx="365.4" cy="176.9" r="3.25" fill="#dc1a3e" stroke="#1a1a1a" stroke-width="1.2"/>
<circle cx="312.1" cy="241.4" r="3.25" fill="#c91a3a" stroke="#1a1a1a" stroke-width="1.2"/>
<circle cx="285.8" cy="243.9" r="3.25" fill="#741a2b" stroke="#1a1a1a" stroke-width="1.2"/>
<circle cx="292.7" cy="241.4" r="3.25" fill="#b51a37" stroke="#1a1a1a" stroke-width="1.2"/>
<circle cx="346.9" cy="176.5" r="3.25" fill="#dc1a3e" stroke="#1a1a1a" stroke-width="1.2"/>
<circle cx="294.9" cy="260.1" r="3.25" fill="#881a2e" stroke="#1a1a1a" stroke-width="1.2"/>
<circle cx="318.6" cy="240.5" r="3.25" fill="#cc1a3b" stroke="#1a1a1a" stroke-width="1.2"/>
<circle cx="321.9" cy="195.9" r="3.25" fill="#dc1a3e" stroke="#1a1a1a" stroke-width="1.2"/>
<circle cx="292.2" cy="214.1" r="3.25" fill="#dc1a3e" stroke="#1a1a1a" stroke-width="1.2"/>
<circle cx="287.8" cy="242.7" r="3.25" fill="#8d1a2f" stroke="#1a1a1a" stroke-width="1.2"/>
<circle cx="293.5" cy="216.6" r="3.25" fill="#d81a3d" stroke="#1a1a1a" stroke-width="1.2"/>
<circle cx="286.3" cy="241.7" r="3.25" fill="#7c1a2c" stroke="#1a1a1a" stroke-width="1.2"/>
<circle cx="290.0" cy="222.5" r="3.25" fill="#c11a39" stroke="#1a1a1a" stroke-width="1.2"/>
<circle cx="324.6" cy="206.1" r="3.25" fill="#dc1a3e" stroke="#1a1a1a" stroke-width="1.2"/>
<circle cx="287.8" cy="247.6" r="3.25" fill="#891a2f" stroke="#1a1a1a" stroke-width="1.2"/>
<circle cx="296.3" cy="206.4" r="3.25" fill="#dc1a3e" stroke="#1a1a1a" stroke-width="1.2"/>
<circle cx="305.8" cy="226.5" r="3.25" fill="#d81a3d" stroke="#1a1a1a" stroke-width="1.2"/>
<circle cx="294.4" cy="234.2" r="3.25" fill="#c21a39" stroke="#1a1a1a" stroke-width="1.2"/>
<circle cx="284.1" cy="253.4" r="3.25" fill="#5e1a27" stroke="#1a1a1a" stroke-width="1.2"/>
<circle cx="289.9" cy="245.8" r="3.25" fill="#9f1a33" stroke="#1a1a1a" stroke-width="1.2"/>
<circle cx="310.4" cy="134.8" r="3.25" fill="#dc1a3e" stroke="#1a1a1a" stroke-width="1.2"/>
<circle cx="331.2" cy="70.2" r="3.25" fill="#dc1a3e" stroke="#1a1a1a" stroke-width="1.2"/>
<circle cx="288.7" cy="228.7" r="3.25" fill="#ab1a35" stroke="#1a1a1a" stroke-width="1.2"/>
<circle cx="315.4" cy="190.0" r="3.25" fill="#dc1a3e" stroke="#1a1a1a" stroke-width="1.2"/>
<circle cx="295.0" cy="199.7" r="3.25" fill="#dc1a3e" stroke="#1a1a1a" stroke-width="1.2"/>
<circle cx="304.5" cy="212.5" r="3.25" fill="#dc1a3e" stroke="#1a1a1a" stroke-width="1.2"/>
<circle cx="301.2" cy="194.1" r="3.25" fill="#dc1a3e" stroke="#1a1a1a" stroke-width="1.2"/>
<circle cx="292.8" cy="218.8" r="3.25" fill="#d21a3c" stroke="#1a1a1a" stroke-width="1.2"/>
<circle cx="297.8" cy="195.0" r="3.25" fill="#dc1a3e" stroke="#1a1a1a" stroke-width="1.2"/>
<circle cx="288.4" cy="249.4" r="3.25" fill="#8f1a30" stroke="#1a1a1a" stroke-width="1.2"/>
<circle cx="291.7" cy="234.4" r="3.25" fill="#b51a37" stroke="#1a1a1a" stroke-width="1.2"/>
<circle cx="290.3" cy="241.2" r="3.25" fill="#a51a34" stroke="#1a1a1a" stroke-width="1.2"/>
<circle cx="290.0" cy="230.3" r="3.25" fill="#b01a36" stroke="#1a1a1a" stroke-width="1.2"/>
<circle cx="329.2" cy="227.2" r="3.25" fill="#dc1a3e" stroke="#1a1a1a" stroke-width="1.2"/>
<circle cx="332.8" cy="111.9" r="3.25" fill="#dc1a3e" stroke="#1a1a1a" stroke-width="1.2"/>
<circle cx="301.4" cy="233.6" r="3.25" fill="#d21a3c" stroke="#1a1a1a" stroke-width="1.2"/>
<circle cx="292.6" cy="199.6" r="3.25" fill="#dc1a3e" stroke="#1a1a1a" stroke-width="1.2"/>
<circle cx="287.6" cy="225.2" r="3.25" fill="#b71a37" stroke="#1a1a1a" stroke-width="1.2"/>
<circle cx="353.6" cy="204.1" r="3.25" fill="#dc1a3e" stroke="#1a1a1a" stroke-width="1.2"/>
<circle cx="322.8" cy="137.6" r="3.25" fill="#dc1a3e" stroke="#1a1a1a" stroke-width="1.2"/>
<circle cx="309.8" cy="165.4" r="3.25" fill="#dc1a3e" stroke="#1a1a1a" stroke-width="1.2"/>
<circle cx="309.6" cy="212.1" r="3.25" fill="#dc1a3e" stroke="#1a1a1a" stroke-width="1.2"/>
<circle cx="321.9" cy="220.0" r="3.25" fill="#dc1a3e" stroke="#1a1a1a" stroke-width="1.2"/>
<circle cx="345.9" cy="131.1" r="3.25" fill="#dc1a3e" stroke="#1a1a1a" stroke-width="1.2"/>
<circle cx="291.8" cy="220.6" r="3.25" fill="#cb1a3b" stroke="#1a1a1a" stroke-width="1.2"/>
<circle cx="332.0" cy="250.6" r="3.25" fill="#b71a37" stroke="#1a1a1a" stroke-width="1.2"/>
<circle cx="420.1" cy="114.2" r="3.25" fill="#dc1a3e" stroke="#1a1a1a" stroke-width="1.2"/>
<circle cx="321.9" cy="128.4" r="3.25" fill="#dc1a3e" stroke="#1a1a1a" stroke-width="1.2"/>
<circle cx="309.7" cy="254.3" r="3.25" fill="#a71a34" stroke="#1a1a1a" stroke-width="1.2"/>
<circle cx="297.1" cy="209.0" r="3.25" fill="#dc1a3e" stroke="#1a1a1a" stroke-width="1.2"/>
<circle cx="311.7" cy="247.8" r="3.25" fill="#b81a37" stroke="#1a1a1a" stroke-width="1.2"/>
<circle cx="326.5" cy="169.1" r="3.25" fill="#dc1a3e" stroke="#1a1a1a" stroke-width="1.2"/>
<circle cx="319.8" cy="205.5" r="3.25" fill="#dc1a3e" stroke="#1a1a1a" stroke-width="1.2"/>
<circle cx="299.9" cy="238.5" r="3.25" fill="#cd1a3b" stroke="#1a1a1a" stroke-width="1.2"/>
<circle cx="289.5" cy="250.9" r="3.25" fill="#921a30" stroke="#1a1a1a" stroke-width="1.2"/>
<circle cx="294.1" cy="229.7" r="3.25" fill="#c41a3a" stroke="#1a1a1a" stroke-width="1.2"/>
<circle cx="307.9" cy="216.6" r="3.25" fill="#db1a3e" stroke="#1a1a1a" stroke-width="1.2"/>
<circle cx="296.9" cy="182.0" r="3.25" fill="#dc1a3e" stroke="#1a1a1a" stroke-width="1.2"/>
<circle cx="301.1" cy="190.1" r="3.25" fill="#dc1a3e" stroke="#1a1a1a" stroke-width="1.2"/>
<circle cx="287.2" cy="239.3" r="3.25" fill="#891a2f" stroke="#1a1a1a" stroke-width="1.2"/>
<circle cx="298.9" cy="224.8" r="3.25" fill="#d31a3c" stroke="#1a1a1a" stroke-width="1.2"/>
<circle cx="302.9" cy="240.8" r="3.25" fill="#c71a3a" stroke="#1a1a1a" stroke-width="1.2"/>
<circle cx="380.6" cy="197.0" r="3.25" fill="#dc1a3e" stroke="#1a1a1a" stroke-width="1.2"/>
<circle cx="289.7" cy="239.2" r="3.25" fill="#a31a33" stroke="#1a1a1a" stroke-width="1.2"/>
<circle cx="297.4" cy="242.9" r="3.25" fill="#bd1a38" stroke="#1a1a1a" stroke-width="1.2"/>
<circle cx="285.0" cy="248.5" r="3.25" fill="#631a28" stroke="#1a1a1a" stroke-width="1.2"/>
<circle cx="315.5" cy="228.0" r="3.25" fill="#db1a3e" stroke="#1a1a1a" stroke-width="1.2"/>
<circle cx="290.5" cy="232.0" r="3.25" fill="#b11a36" stroke="#1a1a1a" stroke-width="1.2"/>
<circle cx="317.7" cy="235.3" r="3.25" fill="#d91a3d" stroke="#1a1a1a" stroke-width="1.2"/>
<circle cx="301.5" cy="174.6" r="3.25" fill="#dc1a3e" stroke="#1a1a1a" stroke-width="1.2"/>
<circle cx="287.9" cy="238.0" r="3.25" fill="#941a31" stroke="#1a1a1a" stroke-width="1.2"/>
<circle cx="292.4" cy="246.2" r="3.25" fill="#aa1a35" stroke="#1a1a1a" stroke-width="1.2"/>
<circle cx="383.3" cy="90.9" r="3.25" fill="#dc1a3e" stroke="#1a1a1a" stroke-width="1.2"/>
<circle cx="315.2" cy="252.3" r="3.25" fill="#af1a36" stroke="#1a1a1a" stroke-width="1.2"/>
<circle cx="285.8" cy="260.9" r="3.25" fill="#691a29" stroke="#1a1a1a" stroke-width="1.2"/>
<circle cx="298.4" cy="259.5" r="3.25" fill="#8f1a30" stroke="#1a1a1a" stroke-width="1.2"/>
<circle cx="309.0" cy="234.6" r="3.25" fill="#d91a3d" stroke="#1a1a1a" stroke-width="1.2"/>
<circle cx="286.1" cy="247.5" r="3.25" fill="#721a2a" stroke="#1a1a1a" stroke-width="1.2"/>
<circle cx="296.3" cy="250.9" r="3.25" fill="#a11a33" stroke="#1a1a1a" stroke-width="1.2"/>
<circle cx="294.3" cy="221.0" r="3.25" fill="#d01a3c" stroke="#1a1a1a" stroke-width="1.2"/>
<circle cx="310.1" cy="203.5" r="3.25" fill="#dc1a3e" stroke="#1a1a1a" stroke-width="1.2"/>
<circle cx="307.7" cy="230.6" r="3.25" fill="#d81a3d" stroke="#1a1a1a" stroke-width="1.2"/>
<circle cx="322.4" cy="151.5" r="3.25" fill="#dc1a3e" stroke="#1a1a1a" stroke-width="1.2"/>
<circle cx="302.1" cy="252.2" r="3.25" fill="#a51a34" stroke="#1a1a1a" stroke-width="1.2"/>
<circle cx="316.3" cy="162.2" r="3.25" fill="#dc1a3e" stroke="#1a1a1a" stroke-width="1.2"/>
<circle cx="373.9" cy="137.2" r="3.25" fill="#dc1a3e" stroke="#1a1a1a" stroke-width="1.2"/>
<circle cx="287.1" cy="250.6" r="3.25" fill="#7f1a2d" stroke="#1a1a1a" stroke-width="1.2"/>
<circle cx="299.9" cy="199.1" r="3.25" fill="#dc1a3e" stroke="#1a1a1a" stroke-width="1.2"/>
<circle cx="289.7" cy="243.1" r="3.25" fill="#9f1a33" stroke="#1a1a1a" stroke-width="1.2"/>
<circle cx="328.3" cy="165.4" r="3.25" fill="#dc1a3e" stroke="#1a1a1a" stroke-width="1.2"/>
<circle cx="288.1" cy="256.4" r="3.25" fill="#791a2c" stroke="#1a1a1a" stroke-width="1.2"/>
<circle cx="309.0" cy="259.3" r="3.25" fill="#9d1a32" stroke="#1a1a1a" stroke-width="1.2"/>
<circle cx="292.5" cy="232.4" r="3.25" fill="#bb1a38" stroke="#1a1a1a" stroke-width="1.2"/>
<circle cx="309.8" cy="159.8" r="3.25" fill="#dc1a3e" stroke="#1a1a1a" stroke-width="1.2"/>
<circle cx="303.7" cy="196.4" r="3.25" fill="#dc1a3e" stroke="#1a1a1a" stroke-width="1.2"/>
<circle cx="283.8" cy="255.8" r="3.25" fill="#5e1a27" stroke="#1a1a1a" stroke-width="1.2"/>
<circle cx="290.1" cy="227.5" r="3.25" fill="#b61a37" stroke="#1a1a1a" stroke-width="1.2"/>
<circle cx="327.6" cy="236.4" r="3.25" fill="#d61a3d" stroke="#1a1a1a" stroke-width="1.2"/>
<circle cx="291.7" cy="226.1" r="3.25" fill="#c01a39" stroke="#1a1a1a" stroke-width="1.2"/>
<circle cx="299.3" cy="211.0" r="3.25" fill="#dc1a3e" stroke="#1a1a1a" stroke-width="1.2"/>
<circle cx="288.1" cy="232.0" r="3.25" fill="#9f1a33" stroke="#1a1a1a" stroke-width="1.2"/>
<circle cx="288.5" cy="235.9" r="3.25" fill="#9c1a32" stroke="#1a1a1a" stroke-width="1.2"/>
<circle cx="325.6" cy="143.1" r="3.25" fill="#dc1a3e" stroke="#1a1a1a" stroke-width="1.2"/>
<circle cx="295.4" cy="240.7" r="3.25" fill="#c21a39" stroke="#1a1a1a" stroke-width="1.2"/>
<circle cx="304.9" cy="204.9" r="3.25" fill="#dc1a3e" stroke="#1a1a1a" stroke-width="1.2"/>
<circle cx="299.8" cy="222.0" r="3.25" fill="#d61a3d" stroke="#1a1a1a" stroke-width="1.2"/>
<circle cx="296.7" cy="202.0" r="3.25" fill="#dc1a3e" stroke="#1a1a1a" stroke-width="1.2"/>
<circle cx="293.7" cy="204.5" r="3.25" fill="#dc1a3e" stroke="#1a1a1a" stroke-width="1.2"/>
<path d="M259.0,258.5 L224.0,258.5 L220.0,268.0 L221.5,280.0 L228.0,292.0 L238.5,301.0 L251.5,307.5 L268.5,311.5 L268.5,311.5 L284.5,307.0 L295.0,299.5 L304.0,290.0 L310.5,280.0 L313.0,268.0 L310.0,258.5 L280.0,258.5 L279.6,261.5 L276.7,273.0 L273.8,284.6 L271.0,296.0 L269.0,298.0 L267.1,296.0 L264.6,284.6 L261.3,273.0 L259.4,261.5Z" fill="#262223" stroke="none"/>
<circle cx="224.0" cy="260.7" r="3.6" fill="#262223"/>
<circle cx="226.6" cy="260.0" r="3.6" fill="#262223"/>
<circle cx="229.2" cy="260.2" r="3.6" fill="#262223"/>
<circle cx="231.8" cy="260.5" r="3.6" fill="#262223"/>
<circle cx="234.4" cy="260.5" r="3.6" fill="#262223"/>
<circle cx="237.0" cy="260.6" r="3.6" fill="#262223"/>
<circle cx="239.6" cy="260.6" r="3.6" fill="#262223"/>
<circle cx="242.2" cy="259.9" r="3.6" fill="#262223"/>
<circle cx="244.8" cy="261.2" r="3.6" fill="#262223"/>
<circle cx="247.4" cy="260.9" r="3.6" fill="#262223"/>
<circle cx="250.0" cy="260.0" r="3.6" fill="#262223"/>
<circle cx="252.6" cy="260.1" r="3.6" fill="#262223"/>
<circle cx="255.2" cy="259.9" r="3.6" fill="#262223"/>
<circle cx="257.8" cy="261.1" r="3.6" fill="#262223"/>
<circle cx="283.6" cy="260.4" r="3.6" fill="#262223"/>
<circle cx="286.2" cy="260.0" r="3.6" fill="#262223"/>
<circle cx="288.8" cy="259.7" r="3.6" fill="#262223"/>
<circle cx="291.4" cy="260.1" r="3.6" fill="#262223"/>
<circle cx="294.0" cy="259.7" r="3.6" fill="#262223"/>
<circle cx="296.6" cy="259.9" r="3.6" fill="#262223"/>
<circle cx="299.2" cy="260.3" r="3.6" fill="#262223"/>
<circle cx="301.8" cy="260.5" r="3.6" fill="#262223"/>
<circle cx="304.4" cy="259.9" r="3.6" fill="#262223"/>
<circle cx="307.0" cy="260.8" r="3.6" fill="#262223"/>
<circle cx="309.6" cy="260.5" r="3.6" fill="#262223"/>
<circle cx="216.7" cy="269.8" r="3.25" fill="#c8c8cc" stroke="#1a1a1a" stroke-width="1.2"/>
<circle cx="280.4" cy="301.3" r="3.25" fill="#818183" stroke="#1a1a1a" stroke-width="1.2"/>
<circle cx="287.5" cy="304.7" r="3.25" fill="#bababd" stroke="#1a1a1a" stroke-width="1.2"/>
<circle cx="220.7" cy="280.3" r="3.25" fill="#c8c8cc" stroke="#1a1a1a" stroke-width="1.2"/>
<circle cx="211.6" cy="270.3" r="3.25" fill="#c9c9cd" stroke="#1a1a1a" stroke-width="1.2"/>
<circle cx="294.0" cy="294.8" r="3.25" fill="#bcbcc0" stroke="#1a1a1a" stroke-width="1.2"/>
<circle cx="292.0" cy="271.7" r="3.25" fill="#7a7a7c" stroke="#1a1a1a" stroke-width="1.2"/>
<circle cx="297.2" cy="283.0" r="3.25" fill="#bababd" stroke="#1a1a1a" stroke-width="1.2"/>
<circle cx="253.1" cy="299.1" r="3.25" fill="#838385" stroke="#1a1a1a" stroke-width="1.2"/>
<circle cx="361.7" cy="265.4" r="3.25" fill="#c9c9cd" stroke="#1a1a1a" stroke-width="1.2"/>
<circle cx="303.4" cy="302.6" r="3.25" fill="#c8c8cc" stroke="#1a1a1a" stroke-width="1.2"/>
<circle cx="223.9" cy="284.3" r="3.25" fill="#c8c8cc" stroke="#1a1a1a" stroke-width="1.2"/>
<circle cx="209.6" cy="276.4" r="3.25" fill="#c9c9cd" stroke="#1a1a1a" stroke-width="1.2"/>
<circle cx="235.1" cy="297.3" r="3.25" fill="#c6c6c9" stroke="#1a1a1a" stroke-width="1.2"/>
<circle cx="252.0" cy="306.8" r="3.25" fill="#b2b2b5" stroke="#1a1a1a" stroke-width="1.2"/>
<circle cx="227.7" cy="298.8" r="3.25" fill="#c8c8cc" stroke="#1a1a1a" stroke-width="1.2"/>
<circle cx="330.9" cy="283.6" r="3.25" fill="#c9c9cd" stroke="#1a1a1a" stroke-width="1.2"/>
<circle cx="218.5" cy="264.6" r="3.25" fill="#c8c8cc" stroke="#1a1a1a" stroke-width="1.2"/>
<circle cx="312.9" cy="280.4" r="3.25" fill="#c8c8cc" stroke="#1a1a1a" stroke-width="1.2"/>
<circle cx="313.8" cy="257.2" r="3.25" fill="#c7c7cb" stroke="#1a1a1a" stroke-width="1.2"/>
<circle cx="218.2" cy="288.8" r="3.25" fill="#c9c9cd" stroke="#1a1a1a" stroke-width="1.2"/>
<circle cx="307.0" cy="274.0" r="3.25" fill="#c5c5c9" stroke="#1a1a1a" stroke-width="1.2"/>
<circle cx="316.4" cy="289.5" r="3.25" fill="#c9c9cd" stroke="#1a1a1a" stroke-width="1.2"/>
<circle cx="232.8" cy="283.4" r="3.25" fill="#c3c3c7" stroke="#1a1a1a" stroke-width="1.2"/>
<circle cx="222.4" cy="296.3" r="3.25" fill="#c9c9cd" stroke="#1a1a1a" stroke-width="1.2"/>
<circle cx="310.5" cy="298.8" r="3.25" fill="#c9c9cd" stroke="#1a1a1a" stroke-width="1.2"/>
<circle cx="310.8" cy="285.7" r="3.25" fill="#c8c8cc" stroke="#1a1a1a" stroke-width="1.2"/>
<circle cx="316.1" cy="267.7" r="3.25" fill="#c8c8cc" stroke="#1a1a1a" stroke-width="1.2"/>
<circle cx="326.0" cy="276.7" r="3.25" fill="#c9c9cd" stroke="#1a1a1a" stroke-width="1.2"/>
<circle cx="223.5" cy="293.1" r="3.25" fill="#c8c8cc" stroke="#1a1a1a" stroke-width="1.2"/>
<circle cx="247.2" cy="294.8" r="3.25" fill="#a2a2a5" stroke="#1a1a1a" stroke-width="1.2"/>
<circle cx="231.9" cy="302.0" r="3.25" fill="#c8c8cc" stroke="#1a1a1a" stroke-width="1.2"/>
<circle cx="243.0" cy="272.2" r="3.25" fill="#7d7d7f" stroke="#1a1a1a" stroke-width="1.2"/>
<circle cx="324.5" cy="282.1" r="3.25" fill="#c9c9cd" stroke="#1a1a1a" stroke-width="1.2"/>
<circle cx="240.2" cy="290.1" r="3.25" fill="#bababd" stroke="#1a1a1a" stroke-width="1.2"/>
<circle cx="171.1" cy="261.6" r="3.25" fill="#c9c9cd" stroke="#1a1a1a" stroke-width="1.2"/>
<circle cx="323.5" cy="268.8" r="3.25" fill="#c9c9cd" stroke="#1a1a1a" stroke-width="1.2"/>
<circle cx="309.7" cy="266.6" r="3.25" fill="#c5c5c9" stroke="#1a1a1a" stroke-width="1.2"/>
<circle cx="223.5" cy="267.7" r="3.25" fill="#c6c6ca" stroke="#1a1a1a" stroke-width="1.2"/>
<circle cx="318.1" cy="284.7" r="3.25" fill="#c9c9cd" stroke="#1a1a1a" stroke-width="1.2"/>
<circle cx="297.7" cy="304.1" r="3.25" fill="#c6c6ca" stroke="#1a1a1a" stroke-width="1.2"/>
<circle cx="242.5" cy="303.7" r="3.25" fill="#c2c2c5" stroke="#1a1a1a" stroke-width="1.2"/>
<circle cx="237.3" cy="301.8" r="3.25" fill="#c5c5c9" stroke="#1a1a1a" stroke-width="1.2"/>
<circle cx="306.5" cy="293.1" r="3.25" fill="#c8c8cc" stroke="#1a1a1a" stroke-width="1.2"/>
<circle cx="274.3" cy="311.8" r="3.25" fill="#a6a6a9" stroke="#1a1a1a" stroke-width="1.2"/>
<circle cx="293.1" cy="302.3" r="3.25" fill="#c1c1c5" stroke="#1a1a1a" stroke-width="1.2"/>
<circle cx="312.2" cy="272.9" r="3.25" fill="#c7c7cb" stroke="#1a1a1a" stroke-width="1.2"/>
<circle cx="239.0" cy="278.7" r="3.25" fill="#b0b0b4" stroke="#1a1a1a" stroke-width="1.2"/>
<circle cx="246.6" cy="284.8" r="3.25" fill="#7e7e80" stroke="#1a1a1a" stroke-width="1.2"/>
<circle cx="213.9" cy="262.5" r="3.25" fill="#c8c8cc" stroke="#1a1a1a" stroke-width="1.2"/>
<circle cx="257.3" cy="307.9" r="3.25" fill="#a0a0a3" stroke="#1a1a1a" stroke-width="1.2"/>
<circle cx="291.0" cy="278.8" r="3.25" fill="#89898b" stroke="#1a1a1a" stroke-width="1.2"/>
<circle cx="213.9" cy="281.4" r="3.25" fill="#c9c9cd" stroke="#1a1a1a" stroke-width="1.2"/>
<circle cx="317.1" cy="274.0" r="3.25" fill="#c8c8cc" stroke="#1a1a1a" stroke-width="1.2"/>
<circle cx="287.3" cy="293.5" r="3.25" fill="#99999c" stroke="#1a1a1a" stroke-width="1.2"/>
<circle cx="215.0" cy="276.2" r="3.25" fill="#c9c9cd" stroke="#1a1a1a" stroke-width="1.2"/>
<circle cx="300.3" cy="271.9" r="3.25" fill="#b9b9bd" stroke="#1a1a1a" stroke-width="1.2"/>
<circle cx="304.4" cy="280.4" r="3.25" fill="#c5c5c8" stroke="#1a1a1a" stroke-width="1.2"/>
<circle cx="322.6" cy="288.9" r="3.25" fill="#c9c9cd" stroke="#1a1a1a" stroke-width="1.2"/>
<circle cx="324.0" cy="262.5" r="3.25" fill="#c9c9cd" stroke="#1a1a1a" stroke-width="1.2"/>
<circle cx="245.7" cy="305.3" r="3.25" fill="#bfbfc3" stroke="#1a1a1a" stroke-width="1.2"/>
<circle cx="233.0" cy="271.3" r="3.25" fill="#bebec1" stroke="#1a1a1a" stroke-width="1.2"/>
<circle cx="233.0" cy="293.1" r="3.25" fill="#c6c6ca" stroke="#1a1a1a" stroke-width="1.2"/>
<circle cx="215.4" cy="282.9" r="3.25" fill="#c9c9cd" stroke="#1a1a1a" stroke-width="1.2"/>
<circle cx="299.8" cy="297.2" r="3.25" fill="#c5c5c9" stroke="#1a1a1a" stroke-width="1.2"/>
<circle cx="206.5" cy="270.9" r="3.25" fill="#c9c9cd" stroke="#1a1a1a" stroke-width="1.2"/>
<circle cx="299.1" cy="290.3" r="3.25" fill="#c2c2c6" stroke="#1a1a1a" stroke-width="1.2"/>
<circle cx="318.4" cy="279.0" r="3.25" fill="#c9c9cd" stroke="#1a1a1a" stroke-width="1.2"/>
<circle cx="268.6" cy="311.0" r="3.25" fill="#7a7a7c" stroke="#1a1a1a" stroke-width="1.2"/>
<circle cx="316.0" cy="262.4" r="3.25" fill="#c8c8cc" stroke="#1a1a1a" stroke-width="1.2"/>
<circle cx="228.1" cy="277.0" r="3.25" fill="#c6c6ca" stroke="#1a1a1a" stroke-width="1.2"/>
<circle cx="319.2" cy="295.2" r="3.25" fill="#c9c9cd" stroke="#1a1a1a" stroke-width="1.2"/>
<circle cx="320.7" cy="258.0" r="3.25" fill="#c8c8cc" stroke="#1a1a1a" stroke-width="1.2"/>
<circle cx="224.5" cy="264.5" r="3.25" fill="#c5c5c9" stroke="#1a1a1a" stroke-width="1.2"/>
<circle cx="325.6" cy="270.9" r="3.25" fill="#c9c9cd" stroke="#1a1a1a" stroke-width="1.2"/>
<circle cx="213.3" cy="292.7" r="3.25" fill="#c9c9cd" stroke="#1a1a1a" stroke-width="1.2"/>
<circle cx="286.2" cy="309.9" r="3.25" fill="#bebec2" stroke="#1a1a1a" stroke-width="1.2"/>
<circle cx="204.4" cy="266.6" r="3.25" fill="#c9c9cd" stroke="#1a1a1a" stroke-width="1.2"/>
<circle cx="210.9" cy="288.3" r="3.25" fill="#c9c9cd" stroke="#1a1a1a" stroke-width="1.2"/>
<circle cx="306.1" cy="287.7" r="3.25" fill="#c7c7cb" stroke="#1a1a1a" stroke-width="1.2"/>
<circle cx="279.0" cy="309.0" r="3.25" fill="#a9a9ad" stroke="#1a1a1a" stroke-width="1.2"/>
<circle cx="221.3" cy="275.1" r="3.25" fill="#c8c8cc" stroke="#1a1a1a" stroke-width="1.2"/>
<circle cx="293.2" cy="307.4" r="3.25" fill="#c5c5c9" stroke="#1a1a1a" stroke-width="1.2"/>
<circle cx="290.8" cy="286.3" r="3.25" fill="#9e9ea1" stroke="#1a1a1a" stroke-width="1.2"/>
<circle cx="200.2" cy="285.7" r="3.25" fill="#c9c9cd" stroke="#1a1a1a" stroke-width="1.2"/>
<circle cx="261.5" cy="310.0" r="3.25" fill="#9c9c9f" stroke="#1a1a1a" stroke-width="1.2"/>
<circle cx="312.5" cy="293.1" r="3.25" fill="#c9c9cd" stroke="#1a1a1a" stroke-width="1.2"/>
<path d="M238.0,258.5 L241.5,265.0 L244.0,275.0 L247.0,285.0 L251.5,296.0 L258.0,304.5 L268.5,311.0 L268.5,311.0 L269.0,298.0 L267.1,296.0 L264.6,284.6 L261.3,273.0 L259.4,261.5 L259.0,258.5Z" fill="#231f20" stroke="#231f20" stroke-width="1.2" stroke-linejoin="round"/>
<path d="M280.0,258.5 L279.6,261.5 L276.7,273.0 L273.8,284.6 L271.0,296.0 L269.0,298.0 L268.5,311.0 L278.0,304.0 L284.0,295.0 L288.0,285.0 L291.0,275.0 L294.0,265.0 L296.0,258.5Z" fill="#231f20" stroke="#231f20" stroke-width="1.2" stroke-linejoin="round"/>
<line x1="96.00" y1="259.40" x2="462.40" y2="259.40" stroke="#1a1a1a" stroke-width="1.2" stroke-dasharray="3.7 3.2"/>
<text x="101.5" y="247.7" font-size="15.2" fill="#231f20" textLength="53.5" lengthAdjust="spacingAndGlyphs">5% FDR</text>
<rect x="169.3" y="149.2" width="71.3" height="20.6" rx="2.5" fill="#fff" stroke="#c8102e" stroke-width="1.1"/>
<text x="172.5" y="166.2" font-size="18" fill="#c8102e" textLength="59.5" lengthAdjust="spacingAndGlyphs">CASP3</text>
<rect x="113.8" y="177.7" width="66.6" height="20.5" rx="2.5" fill="#fff" stroke="#c8102e" stroke-width="1.1"/>
<text x="116.8" y="195.0" font-size="18" fill="#c8102e" textLength="56.5" lengthAdjust="spacingAndGlyphs">ZAP70</text>
<rect x="217.0" y="205.6" width="63.0" height="21.0" rx="2.5" fill="#fff" stroke="#c8102e" stroke-width="1.1"/>
<text x="219.8" y="223.5" font-size="18" fill="#c8102e" textLength="52.5" lengthAdjust="spacingAndGlyphs">STAT2</text>
<rect x="388.4" y="88.8" width="70.8" height="21.2" rx="2.5" fill="#fff" stroke="#c8102e" stroke-width="1.1"/>
<text x="391.8" y="107.2" font-size="18" fill="#c8102e" textLength="60.5" lengthAdjust="spacingAndGlyphs">BANK1</text>
<rect x="96.00" y="27.00" width="366.40" height="297.60" fill="none" stroke="#1a1a1a" stroke-width="1.7"/>
<line x1="91.00" y1="311.25" x2="96.00" y2="311.25" stroke="#1a1a1a" stroke-width="1.5"/>
<text x="86.5" y="317.2" font-size="16.5" fill="#231f20" text-anchor="end">0</text>
<line x1="91.00" y1="236.70" x2="96.00" y2="236.70" stroke="#1a1a1a" stroke-width="1.5"/>
<text x="86.5" y="242.7" font-size="16.5" fill="#231f20" text-anchor="end">3</text>
<line x1="91.00" y1="162.15" x2="96.00" y2="162.15" stroke="#1a1a1a" stroke-width="1.5"/>
<text x="86.5" y="168.1" font-size="16.5" fill="#231f20" text-anchor="end">6</text>
<line x1="91.00" y1="87.60" x2="96.00" y2="87.60" stroke="#1a1a1a" stroke-width="1.5"/>
<text x="86.5" y="93.6" font-size="16.5" fill="#231f20" text-anchor="end">9</text>
<line x1="148.30" y1="324.60" x2="148.30" y2="329.80" stroke="#1a1a1a" stroke-width="1.5"/>
<text x="145.3" y="347.8" font-size="16.5" fill="#231f20" text-anchor="middle">−1.0</text>
<line x1="208.35" y1="324.60" x2="208.35" y2="329.80" stroke="#1a1a1a" stroke-width="1.5"/>
<text x="205.3" y="347.8" font-size="16.5" fill="#231f20" text-anchor="middle">−0.5</text>
<line x1="268.40" y1="324.60" x2="268.40" y2="329.80" stroke="#1a1a1a" stroke-width="1.5"/>
<text x="267.9" y="347.8" font-size="16.5" fill="#231f20" text-anchor="middle">0.0</text>
<line x1="328.45" y1="324.60" x2="328.45" y2="329.80" stroke="#1a1a1a" stroke-width="1.5"/>
<text x="327.9" y="347.8" font-size="16.5" fill="#231f20" text-anchor="middle">0.5</text>
<line x1="388.50" y1="324.60" x2="388.50" y2="329.80" stroke="#1a1a1a" stroke-width="1.5"/>
<text x="388.0" y="347.8" font-size="16.5" fill="#231f20" text-anchor="middle">1.0</text>
<line x1="448.55" y1="324.60" x2="448.55" y2="329.80" stroke="#1a1a1a" stroke-width="1.5"/>
<text x="448.0" y="347.8" font-size="16.5" fill="#231f20" text-anchor="middle">1.5</text>
<text x="220" y="373" font-size="19" fill="#231f20" textLength="118" lengthAdjust="spacingAndGlyphs">log<tspan font-size="12" dy="4">2</tspan><tspan dy="-4">(fold change)</tspan></text>
<text transform="translate(67.2,229.6) rotate(-90)" font-size="19.5" fill="#231f20" textLength="32.3" lengthAdjust="spacingAndGlyphs">−Log</text>
<text transform="translate(72.2,195.4) rotate(-90)" font-size="14.5" fill="#231f20" textLength="12.3" lengthAdjust="spacingAndGlyphs">10</text>
<text transform="translate(67.2,185.0) rotate(-90)" font-size="19.5" fill="#231f20" textLength="62.3" lengthAdjust="spacingAndGlyphs">(P value)</text>
<circle cx="214.5" cy="393" r="3.2" fill="#dc1a3f" stroke="#1a1a1a" stroke-width="1.1"/>
<circle cx="258.5" cy="393" r="3.2" fill="#195c97" stroke="#1a1a1a" stroke-width="1.1"/>
<circle cx="320.3" cy="393" r="3.2" fill="#c9c9cd" stroke="#1a1a1a" stroke-width="1.1"/>
<text x="229.5" y="397.9" font-size="14.5" fill="#231f20" textLength="19" lengthAdjust="spacingAndGlyphs">Up</text>
<text x="272.2" y="397.9" font-size="14.5" fill="#231f20" textLength="39.5" lengthAdjust="spacingAndGlyphs">Down</text>
<text x="334.3" y="397.9" font-size="14.5" fill="#231f20" textLength="21.5" lengthAdjust="spacingAndGlyphs">n.s.</text>
<text x="10.5" y="420.3" font-size="21.5" fill="#231f20" font-weight="bold" stroke="#231f20" stroke-width="0.6">B</text>
<line x1="118.7" y1="450.5" x2="118.7" y2="466.0" stroke="#2a2a2a" stroke-width="1.2"/>
<line x1="118.7" y1="479.9" x2="118.7" y2="492.5" stroke="#2a2a2a" stroke-width="1.2"/>
<rect x="106.0" y="466.0" width="25.4" height="13.9" fill="#f7a01c" stroke="#1a1a1a" stroke-width="1"/>
<line x1="106.0" y1="473.2" x2="131.4" y2="473.2" stroke="#1a1a1a" stroke-width="2"/>
<circle cx="118.1" cy="462.7" r="2.7" fill="rgba(45,45,45,0.58)" stroke="rgba(0,0,0,0.62)" stroke-width="0.8"/>
<circle cx="118.0" cy="473.3" r="2.7" fill="rgba(45,45,45,0.58)" stroke="rgba(0,0,0,0.62)" stroke-width="0.8"/>
<circle cx="118.4" cy="468.0" r="2.7" fill="rgba(45,45,45,0.58)" stroke="rgba(0,0,0,0.62)" stroke-width="0.8"/>
<circle cx="124.4" cy="479.9" r="2.7" fill="rgba(45,45,45,0.58)" stroke="rgba(0,0,0,0.62)" stroke-width="0.8"/>
<circle cx="119.0" cy="465.0" r="2.7" fill="rgba(45,45,45,0.58)" stroke="rgba(0,0,0,0.62)" stroke-width="0.8"/>
<circle cx="115.6" cy="467.1" r="2.7" fill="rgba(45,45,45,0.58)" stroke="rgba(0,0,0,0.62)" stroke-width="0.8"/>
<circle cx="118.4" cy="505.8" r="2.7" fill="rgba(45,45,45,0.58)" stroke="rgba(0,0,0,0.62)" stroke-width="0.8"/>
<circle cx="119.1" cy="461.3" r="2.7" fill="rgba(45,45,45,0.58)" stroke="rgba(0,0,0,0.62)" stroke-width="0.8"/>
<circle cx="121.7" cy="472.1" r="2.7" fill="rgba(45,45,45,0.58)" stroke="rgba(0,0,0,0.62)" stroke-width="0.8"/>
<circle cx="120.7" cy="477.2" r="2.7" fill="rgba(45,45,45,0.58)" stroke="rgba(0,0,0,0.62)" stroke-width="0.8"/>
<circle cx="118.2" cy="484.0" r="2.7" fill="rgba(45,45,45,0.58)" stroke="rgba(0,0,0,0.62)" stroke-width="0.8"/>
<circle cx="114.7" cy="472.5" r="2.7" fill="rgba(45,45,45,0.58)" stroke="rgba(0,0,0,0.62)" stroke-width="0.8"/>
<circle cx="121.7" cy="463.7" r="2.7" fill="rgba(45,45,45,0.58)" stroke="rgba(0,0,0,0.62)" stroke-width="0.8"/>
<circle cx="117.4" cy="476.0" r="2.7" fill="rgba(45,45,45,0.58)" stroke="rgba(0,0,0,0.62)" stroke-width="0.8"/>
<circle cx="121.3" cy="484.8" r="2.7" fill="rgba(45,45,45,0.58)" stroke="rgba(0,0,0,0.62)" stroke-width="0.8"/>
<circle cx="121.1" cy="481.3" r="2.7" fill="rgba(45,45,45,0.58)" stroke="rgba(0,0,0,0.62)" stroke-width="0.8"/>
<circle cx="118.5" cy="492.5" r="2.7" fill="rgba(45,45,45,0.58)" stroke="rgba(0,0,0,0.62)" stroke-width="0.8"/>
<circle cx="118.7" cy="450.5" r="2.7" fill="rgba(45,45,45,0.58)" stroke="rgba(0,0,0,0.62)" stroke-width="0.8"/>
<circle cx="112.8" cy="480.1" r="2.7" fill="rgba(45,45,45,0.58)" stroke="rgba(0,0,0,0.62)" stroke-width="0.8"/>
<circle cx="116.8" cy="486.9" r="2.7" fill="rgba(45,45,45,0.58)" stroke="rgba(0,0,0,0.62)" stroke-width="0.8"/>
<circle cx="123.9" cy="474.0" r="2.7" fill="rgba(45,45,45,0.58)" stroke="rgba(0,0,0,0.62)" stroke-width="0.8"/>
<circle cx="120.1" cy="473.2" r="2.7" fill="rgba(45,45,45,0.58)" stroke="rgba(0,0,0,0.62)" stroke-width="0.8"/>
<circle cx="116.6" cy="471.6" r="2.7" fill="rgba(45,45,45,0.58)" stroke="rgba(0,0,0,0.62)" stroke-width="0.8"/>
<circle cx="115.1" cy="481.7" r="2.7" fill="rgba(45,45,45,0.58)" stroke="rgba(0,0,0,0.62)" stroke-width="0.8"/>
<circle cx="118.7" cy="481.0" r="2.7" fill="rgba(45,45,45,0.58)" stroke="rgba(0,0,0,0.62)" stroke-width="0.8"/>
<circle cx="120.2" cy="467.5" r="2.7" fill="rgba(45,45,45,0.58)" stroke="rgba(0,0,0,0.62)" stroke-width="0.8"/>
<circle cx="118.8" cy="470.3" r="2.7" fill="rgba(45,45,45,0.58)" stroke="rgba(0,0,0,0.62)" stroke-width="0.8"/>
<circle cx="117.2" cy="466.0" r="2.7" fill="rgba(45,45,45,0.58)" stroke="rgba(0,0,0,0.62)" stroke-width="0.8"/>
<circle cx="119.7" cy="481.8" r="2.7" fill="rgba(45,45,45,0.58)" stroke="rgba(0,0,0,0.62)" stroke-width="0.8"/>
<circle cx="121.8" cy="466.7" r="2.7" fill="rgba(45,45,45,0.58)" stroke="rgba(0,0,0,0.62)" stroke-width="0.8"/>
<circle cx="122.6" cy="476.6" r="2.7" fill="rgba(45,45,45,0.58)" stroke="rgba(0,0,0,0.62)" stroke-width="0.8"/>
<circle cx="118.6" cy="477.9" r="2.7" fill="rgba(45,45,45,0.58)" stroke="rgba(0,0,0,0.62)" stroke-width="0.8"/>
<circle cx="116.6" cy="481.0" r="2.7" fill="rgba(45,45,45,0.58)" stroke="rgba(0,0,0,0.62)" stroke-width="0.8"/>
<circle cx="113.0" cy="470.3" r="2.7" fill="rgba(45,45,45,0.58)" stroke="rgba(0,0,0,0.62)" stroke-width="0.8"/>
<circle cx="119.4" cy="475.1" r="2.7" fill="rgba(45,45,45,0.58)" stroke="rgba(0,0,0,0.62)" stroke-width="0.8"/>
<circle cx="123.7" cy="468.6" r="2.7" fill="rgba(45,45,45,0.58)" stroke="rgba(0,0,0,0.62)" stroke-width="0.8"/>
<circle cx="113.5" cy="474.3" r="2.7" fill="rgba(45,45,45,0.58)" stroke="rgba(0,0,0,0.62)" stroke-width="0.8"/>
<circle cx="115.8" cy="476.9" r="2.7" fill="rgba(45,45,45,0.58)" stroke="rgba(0,0,0,0.62)" stroke-width="0.8"/>
<circle cx="117.2" cy="459.1" r="2.7" fill="rgba(45,45,45,0.58)" stroke="rgba(0,0,0,0.62)" stroke-width="0.8"/>
<circle cx="118.2" cy="455.0" r="2.7" fill="rgba(45,45,45,0.58)" stroke="rgba(0,0,0,0.62)" stroke-width="0.8"/>
<circle cx="119.0" cy="503.5" r="2.7" fill="rgba(45,45,45,0.58)" stroke="rgba(0,0,0,0.62)" stroke-width="0.8"/>
<circle cx="114.4" cy="464.8" r="2.7" fill="rgba(45,45,45,0.58)" stroke="rgba(0,0,0,0.62)" stroke-width="0.8"/>
<circle cx="118.9" cy="487.8" r="2.7" fill="rgba(45,45,45,0.58)" stroke="rgba(0,0,0,0.62)" stroke-width="0.8"/>
<circle cx="119.5" cy="457.7" r="2.7" fill="rgba(45,45,45,0.58)" stroke="rgba(0,0,0,0.62)" stroke-width="0.8"/>
<line x1="201.5" y1="460.5" x2="201.5" y2="478.5" stroke="#2a2a2a" stroke-width="1.2"/>
<line x1="201.5" y1="498.4" x2="201.5" y2="523.8" stroke="#2a2a2a" stroke-width="1.2"/>
<rect x="188.8" y="478.5" width="25.4" height="19.9" fill="#00785b" stroke="#1a1a1a" stroke-width="1"/>
<line x1="188.8" y1="487.5" x2="214.2" y2="487.5" stroke="#1a1a1a" stroke-width="2"/>
<circle cx="199.8" cy="483.1" r="2.7" fill="rgba(45,45,45,0.58)" stroke="rgba(0,0,0,0.62)" stroke-width="0.8"/>
<circle cx="199.3" cy="492.6" r="2.7" fill="rgba(45,45,45,0.58)" stroke="rgba(0,0,0,0.62)" stroke-width="0.8"/>
<circle cx="198.4" cy="478.4" r="2.7" fill="rgba(45,45,45,0.58)" stroke="rgba(0,0,0,0.62)" stroke-width="0.8"/>
<circle cx="203.9" cy="483.8" r="2.7" fill="rgba(45,45,45,0.58)" stroke="rgba(0,0,0,0.62)" stroke-width="0.8"/>
<circle cx="201.0" cy="473.5" r="2.7" fill="rgba(45,45,45,0.58)" stroke="rgba(0,0,0,0.62)" stroke-width="0.8"/>
<circle cx="200.8" cy="504.1" r="2.7" fill="rgba(45,45,45,0.58)" stroke="rgba(0,0,0,0.62)" stroke-width="0.8"/>
<circle cx="204.5" cy="490.4" r="2.7" fill="rgba(45,45,45,0.58)" stroke="rgba(0,0,0,0.62)" stroke-width="0.8"/>
<circle cx="201.4" cy="495.1" r="2.7" fill="rgba(45,45,45,0.58)" stroke="rgba(0,0,0,0.62)" stroke-width="0.8"/>
<circle cx="203.2" cy="504.8" r="2.7" fill="rgba(45,45,45,0.58)" stroke="rgba(0,0,0,0.62)" stroke-width="0.8"/>
<circle cx="201.6" cy="482.7" r="2.7" fill="rgba(45,45,45,0.58)" stroke="rgba(0,0,0,0.62)" stroke-width="0.8"/>
<circle cx="198.4" cy="484.8" r="2.7" fill="rgba(45,45,45,0.58)" stroke="rgba(0,0,0,0.62)" stroke-width="0.8"/>
<circle cx="205.6" cy="487.7" r="2.7" fill="rgba(45,45,45,0.58)" stroke="rgba(0,0,0,0.62)" stroke-width="0.8"/>
<circle cx="201.9" cy="509.0" r="2.7" fill="rgba(45,45,45,0.58)" stroke="rgba(0,0,0,0.62)" stroke-width="0.8"/>
<circle cx="201.0" cy="487.5" r="2.7" fill="rgba(45,45,45,0.58)" stroke="rgba(0,0,0,0.62)" stroke-width="0.8"/>
<circle cx="201.0" cy="465.5" r="2.7" fill="rgba(45,45,45,0.58)" stroke="rgba(0,0,0,0.62)" stroke-width="0.8"/>
<circle cx="197.3" cy="476.1" r="2.7" fill="rgba(45,45,45,0.58)" stroke="rgba(0,0,0,0.62)" stroke-width="0.8"/>
<circle cx="202.1" cy="467.8" r="2.7" fill="rgba(45,45,45,0.58)" stroke="rgba(0,0,0,0.62)" stroke-width="0.8"/>
<circle cx="205.8" cy="499.5" r="2.7" fill="rgba(45,45,45,0.58)" stroke="rgba(0,0,0,0.62)" stroke-width="0.8"/>
<circle cx="195.9" cy="481.2" r="2.7" fill="rgba(45,45,45,0.58)" stroke="rgba(0,0,0,0.62)" stroke-width="0.8"/>
<circle cx="200.0" cy="478.0" r="2.7" fill="rgba(45,45,45,0.58)" stroke="rgba(0,0,0,0.62)" stroke-width="0.8"/>
<circle cx="201.5" cy="523.8" r="2.7" fill="rgba(45,45,45,0.58)" stroke="rgba(0,0,0,0.62)" stroke-width="0.8"/>
<circle cx="203.1" cy="493.5" r="2.7" fill="rgba(45,45,45,0.58)" stroke="rgba(0,0,0,0.62)" stroke-width="0.8"/>
<circle cx="202.6" cy="498.5" r="2.7" fill="rgba(45,45,45,0.58)" stroke="rgba(0,0,0,0.62)" stroke-width="0.8"/>
<circle cx="199.7" cy="471.4" r="2.7" fill="rgba(45,45,45,0.58)" stroke="rgba(0,0,0,0.62)" stroke-width="0.8"/>
<circle cx="200.5" cy="489.9" r="2.7" fill="rgba(45,45,45,0.58)" stroke="rgba(0,0,0,0.62)" stroke-width="0.8"/>
<circle cx="199.1" cy="497.4" r="2.7" fill="rgba(45,45,45,0.58)" stroke="rgba(0,0,0,0.62)" stroke-width="0.8"/>
<circle cx="204.6" cy="478.3" r="2.7" fill="rgba(45,45,45,0.58)" stroke="rgba(0,0,0,0.62)" stroke-width="0.8"/>
<circle cx="201.8" cy="502.0" r="2.7" fill="rgba(45,45,45,0.58)" stroke="rgba(0,0,0,0.62)" stroke-width="0.8"/>
<circle cx="201.8" cy="476.6" r="2.7" fill="rgba(45,45,45,0.58)" stroke="rgba(0,0,0,0.62)" stroke-width="0.8"/>
<circle cx="202.0" cy="488.9" r="2.7" fill="rgba(45,45,45,0.58)" stroke="rgba(0,0,0,0.62)" stroke-width="0.8"/>
<circle cx="200.7" cy="498.6" r="2.7" fill="rgba(45,45,45,0.58)" stroke="rgba(0,0,0,0.62)" stroke-width="0.8"/>
<circle cx="197.4" cy="488.6" r="2.7" fill="rgba(45,45,45,0.58)" stroke="rgba(0,0,0,0.62)" stroke-width="0.8"/>
<circle cx="197.6" cy="500.8" r="2.7" fill="rgba(45,45,45,0.58)" stroke="rgba(0,0,0,0.62)" stroke-width="0.8"/>
<circle cx="206.6" cy="481.1" r="2.7" fill="rgba(45,45,45,0.58)" stroke="rgba(0,0,0,0.62)" stroke-width="0.8"/>
<circle cx="201.5" cy="460.5" r="2.7" fill="rgba(45,45,45,0.58)" stroke="rgba(0,0,0,0.62)" stroke-width="0.8"/>
<circle cx="200.2" cy="505.9" r="2.7" fill="rgba(45,45,45,0.58)" stroke="rgba(0,0,0,0.62)" stroke-width="0.8"/>
<circle cx="204.5" cy="475.0" r="2.7" fill="rgba(45,45,45,0.58)" stroke="rgba(0,0,0,0.62)" stroke-width="0.8"/>
<circle cx="201.2" cy="480.3" r="2.7" fill="rgba(45,45,45,0.58)" stroke="rgba(0,0,0,0.62)" stroke-width="0.8"/>
<circle cx="204.4" cy="497.4" r="2.7" fill="rgba(45,45,45,0.58)" stroke="rgba(0,0,0,0.62)" stroke-width="0.8"/>
<circle cx="197.2" cy="498.1" r="2.7" fill="rgba(45,45,45,0.58)" stroke="rgba(0,0,0,0.62)" stroke-width="0.8"/>
<circle cx="202.6" cy="487.1" r="2.7" fill="rgba(45,45,45,0.58)" stroke="rgba(0,0,0,0.62)" stroke-width="0.8"/>
<circle cx="201.9" cy="472.2" r="2.7" fill="rgba(45,45,45,0.58)" stroke="rgba(0,0,0,0.62)" stroke-width="0.8"/>
<circle cx="201.6" cy="496.9" r="2.7" fill="rgba(45,45,45,0.58)" stroke="rgba(0,0,0,0.62)" stroke-width="0.8"/>
<circle cx="201.8" cy="541.2" r="2.7" fill="rgba(45,45,45,0.58)" stroke="rgba(0,0,0,0.62)" stroke-width="0.8"/>
<circle cx="195.4" cy="495.4" r="2.7" fill="rgba(45,45,45,0.58)" stroke="rgba(0,0,0,0.62)" stroke-width="0.8"/>
<circle cx="207.1" cy="495.1" r="2.7" fill="rgba(45,45,45,0.58)" stroke="rgba(0,0,0,0.62)" stroke-width="0.8"/>
<circle cx="203.1" cy="479.9" r="2.7" fill="rgba(45,45,45,0.58)" stroke="rgba(0,0,0,0.62)" stroke-width="0.8"/>
<rect x="69.00" y="444.80" width="183.00" height="101.20" fill="none" stroke="#1a1a1a" stroke-width="1.7"/>
<text x="84.2" y="436.9" font-size="15.8" fill="#231f20" textLength="153.8" lengthAdjust="spacingAndGlyphs">CASP3 (<tspan font-style="italic">P</tspan> = 3.1e−06)</text>
<line x1="64.00" y1="449.40" x2="69.00" y2="449.40" stroke="#1a1a1a" stroke-width="1.5"/>
<text x="57.6" y="454.4" font-size="16.5" fill="#231f20" text-anchor="end" textLength="31.0" lengthAdjust="spacingAndGlyphs">18.0</text>
<line x1="64.00" y1="470.20" x2="69.00" y2="470.20" stroke="#1a1a1a" stroke-width="1.5"/>
<text x="57.6" y="475.2" font-size="16.5" fill="#231f20" text-anchor="end" textLength="31.0" lengthAdjust="spacingAndGlyphs">17.0</text>
<line x1="64.00" y1="491.20" x2="69.00" y2="491.20" stroke="#1a1a1a" stroke-width="1.5"/>
<text x="57.6" y="496.2" font-size="16.5" fill="#231f20" text-anchor="end" textLength="31.0" lengthAdjust="spacingAndGlyphs">16.0</text>
<line x1="64.00" y1="511.90" x2="69.00" y2="511.90" stroke="#1a1a1a" stroke-width="1.5"/>
<text x="57.6" y="516.9" font-size="16.5" fill="#231f20" text-anchor="end" textLength="31.0" lengthAdjust="spacingAndGlyphs">15.0</text>
<line x1="64.00" y1="533.00" x2="69.00" y2="533.00" stroke="#1a1a1a" stroke-width="1.5"/>
<text x="57.6" y="538.0" font-size="16.5" fill="#231f20" text-anchor="end" textLength="31.0" lengthAdjust="spacingAndGlyphs">14.0</text>
<line x1="118.60" y1="546.00" x2="118.60" y2="550.50" stroke="#1a1a1a" stroke-width="1.5"/>
<text x="117.1" y="569.0" font-size="15.8" fill="#231f20" text-anchor="middle" textLength="50" lengthAdjust="spacingAndGlyphs">U−CLL</text>
<text x="117.1" y="587.8" font-size="15.8" fill="#231f20" text-anchor="middle" textLength="60" lengthAdjust="spacingAndGlyphs">(N = 44)</text>
<line x1="201.50" y1="546.00" x2="201.50" y2="550.50" stroke="#1a1a1a" stroke-width="1.5"/>
<text x="200.0" y="569.0" font-size="15.8" fill="#231f20" text-anchor="middle" textLength="53.5" lengthAdjust="spacingAndGlyphs">M−CLL</text>
<text x="200.0" y="587.8" font-size="15.8" fill="#231f20" text-anchor="middle" textLength="61.5" lengthAdjust="spacingAndGlyphs">(N = 47)</text>
<text transform="translate(19.9,557.4) rotate(-90)" font-size="19" fill="#231f20" textLength="124" lengthAdjust="spacingAndGlyphs">Protein expression</text>
<line x1="377.0" y1="448.7" x2="377.0" y2="459.7" stroke="#2a2a2a" stroke-width="1.2"/>
<line x1="377.0" y1="468.5" x2="377.0" y2="485.0" stroke="#2a2a2a" stroke-width="1.2"/>
<rect x="364.3" y="459.7" width="25.4" height="8.8" fill="#f7a01c" stroke="#1a1a1a" stroke-width="1"/>
<line x1="364.3" y1="466.0" x2="389.7" y2="466.0" stroke="#1a1a1a" stroke-width="2"/>
<circle cx="370.9" cy="460.3" r="2.7" fill="rgba(45,45,45,0.58)" stroke="rgba(0,0,0,0.62)" stroke-width="0.8"/>
<circle cx="382.9" cy="468.8" r="2.7" fill="rgba(45,45,45,0.58)" stroke="rgba(0,0,0,0.62)" stroke-width="0.8"/>
<circle cx="367.6" cy="465.0" r="2.7" fill="rgba(45,45,45,0.58)" stroke="rgba(0,0,0,0.62)" stroke-width="0.8"/>
<circle cx="380.0" cy="460.3" r="2.7" fill="rgba(45,45,45,0.58)" stroke="rgba(0,0,0,0.62)" stroke-width="0.8"/>
<circle cx="383.6" cy="464.2" r="2.7" fill="rgba(45,45,45,0.58)" stroke="rgba(0,0,0,0.62)" stroke-width="0.8"/>
<circle cx="378.6" cy="466.3" r="2.7" fill="rgba(45,45,45,0.58)" stroke="rgba(0,0,0,0.62)" stroke-width="0.8"/>
<circle cx="368.8" cy="469.4" r="2.7" fill="rgba(45,45,45,0.58)" stroke="rgba(0,0,0,0.62)" stroke-width="0.8"/>
<circle cx="364.4" cy="465.9" r="2.7" fill="rgba(45,45,45,0.58)" stroke="rgba(0,0,0,0.62)" stroke-width="0.8"/>
<circle cx="377.2" cy="476.1" r="2.7" fill="rgba(45,45,45,0.58)" stroke="rgba(0,0,0,0.62)" stroke-width="0.8"/>
<circle cx="392.1" cy="467.5" r="2.7" fill="rgba(45,45,45,0.58)" stroke="rgba(0,0,0,0.62)" stroke-width="0.8"/>
<circle cx="378.9" cy="470.0" r="2.7" fill="rgba(45,45,45,0.58)" stroke="rgba(0,0,0,0.62)" stroke-width="0.8"/>
<circle cx="377.6" cy="458.8" r="2.7" fill="rgba(45,45,45,0.58)" stroke="rgba(0,0,0,0.62)" stroke-width="0.8"/>
<circle cx="387.3" cy="462.0" r="2.7" fill="rgba(45,45,45,0.58)" stroke="rgba(0,0,0,0.62)" stroke-width="0.8"/>
<circle cx="382.3" cy="466.7" r="2.7" fill="rgba(45,45,45,0.58)" stroke="rgba(0,0,0,0.62)" stroke-width="0.8"/>
<circle cx="365.7" cy="462.1" r="2.7" fill="rgba(45,45,45,0.58)" stroke="rgba(0,0,0,0.62)" stroke-width="0.8"/>
<circle cx="378.2" cy="453.0" r="2.7" fill="rgba(45,45,45,0.58)" stroke="rgba(0,0,0,0.62)" stroke-width="0.8"/>
<circle cx="378.3" cy="457.4" r="2.7" fill="rgba(45,45,45,0.58)" stroke="rgba(0,0,0,0.62)" stroke-width="0.8"/>
<circle cx="376.5" cy="485.0" r="2.7" fill="rgba(45,45,45,0.58)" stroke="rgba(0,0,0,0.62)" stroke-width="0.8"/>
<circle cx="387.0" cy="466.3" r="2.7" fill="rgba(45,45,45,0.58)" stroke="rgba(0,0,0,0.62)" stroke-width="0.8"/>
<circle cx="383.8" cy="458.2" r="2.7" fill="rgba(45,45,45,0.58)" stroke="rgba(0,0,0,0.62)" stroke-width="0.8"/>
<circle cx="372.9" cy="472.8" r="2.7" fill="rgba(45,45,45,0.58)" stroke="rgba(0,0,0,0.62)" stroke-width="0.8"/>
<circle cx="374.2" cy="458.9" r="2.7" fill="rgba(45,45,45,0.58)" stroke="rgba(0,0,0,0.62)" stroke-width="0.8"/>
<circle cx="372.5" cy="463.9" r="2.7" fill="rgba(45,45,45,0.58)" stroke="rgba(0,0,0,0.62)" stroke-width="0.8"/>
<circle cx="377.3" cy="462.8" r="2.7" fill="rgba(45,45,45,0.58)" stroke="rgba(0,0,0,0.62)" stroke-width="0.8"/>
<circle cx="376.4" cy="477.2" r="2.7" fill="rgba(45,45,45,0.58)" stroke="rgba(0,0,0,0.62)" stroke-width="0.8"/>
<circle cx="375.7" cy="470.2" r="2.7" fill="rgba(45,45,45,0.58)" stroke="rgba(0,0,0,0.62)" stroke-width="0.8"/>
<circle cx="376.7" cy="467.0" r="2.7" fill="rgba(45,45,45,0.58)" stroke="rgba(0,0,0,0.62)" stroke-width="0.8"/>
<circle cx="389.5" cy="465.8" r="2.7" fill="rgba(45,45,45,0.58)" stroke="rgba(0,0,0,0.62)" stroke-width="0.8"/>
<circle cx="368.2" cy="458.7" r="2.7" fill="rgba(45,45,45,0.58)" stroke="rgba(0,0,0,0.62)" stroke-width="0.8"/>
<circle cx="369.4" cy="466.4" r="2.7" fill="rgba(45,45,45,0.58)" stroke="rgba(0,0,0,0.62)" stroke-width="0.8"/>
<circle cx="377.0" cy="448.7" r="2.7" fill="rgba(45,45,45,0.58)" stroke="rgba(0,0,0,0.62)" stroke-width="0.8"/>
<circle cx="372.9" cy="455.9" r="2.7" fill="rgba(45,45,45,0.58)" stroke="rgba(0,0,0,0.62)" stroke-width="0.8"/>
<circle cx="378.1" cy="479.9" r="2.7" fill="rgba(45,45,45,0.58)" stroke="rgba(0,0,0,0.62)" stroke-width="0.8"/>
<circle cx="375.6" cy="458.2" r="2.7" fill="rgba(45,45,45,0.58)" stroke="rgba(0,0,0,0.62)" stroke-width="0.8"/>
<circle cx="376.4" cy="460.5" r="2.7" fill="rgba(45,45,45,0.58)" stroke="rgba(0,0,0,0.62)" stroke-width="0.8"/>
<circle cx="380.2" cy="465.1" r="2.7" fill="rgba(45,45,45,0.58)" stroke="rgba(0,0,0,0.62)" stroke-width="0.8"/>
<circle cx="377.1" cy="468.7" r="2.7" fill="rgba(45,45,45,0.58)" stroke="rgba(0,0,0,0.62)" stroke-width="0.8"/>
<circle cx="382.9" cy="459.6" r="2.7" fill="rgba(45,45,45,0.58)" stroke="rgba(0,0,0,0.62)" stroke-width="0.8"/>
<circle cx="383.5" cy="470.9" r="2.7" fill="rgba(45,45,45,0.58)" stroke="rgba(0,0,0,0.62)" stroke-width="0.8"/>
<circle cx="372.0" cy="468.7" r="2.7" fill="rgba(45,45,45,0.58)" stroke="rgba(0,0,0,0.62)" stroke-width="0.8"/>
<circle cx="373.7" cy="466.3" r="2.7" fill="rgba(45,45,45,0.58)" stroke="rgba(0,0,0,0.62)" stroke-width="0.8"/>
<circle cx="375.4" cy="465.6" r="2.7" fill="rgba(45,45,45,0.58)" stroke="rgba(0,0,0,0.62)" stroke-width="0.8"/>
<circle cx="362.9" cy="468.6" r="2.7" fill="rgba(45,45,45,0.58)" stroke="rgba(0,0,0,0.62)" stroke-width="0.8"/>
<circle cx="376.0" cy="451.2" r="2.7" fill="rgba(45,45,45,0.58)" stroke="rgba(0,0,0,0.62)" stroke-width="0.8"/>
<line x1="459.8" y1="456.5" x2="459.8" y2="467.4" stroke="#2a2a2a" stroke-width="1.2"/>
<line x1="459.8" y1="490.0" x2="459.8" y2="520.7" stroke="#2a2a2a" stroke-width="1.2"/>
<rect x="447.1" y="467.4" width="25.4" height="22.6" fill="#00785b" stroke="#1a1a1a" stroke-width="1"/>
<line x1="447.1" y1="484.5" x2="472.5" y2="484.5" stroke="#1a1a1a" stroke-width="2"/>
<circle cx="457.5" cy="462.4" r="2.7" fill="rgba(45,45,45,0.58)" stroke="rgba(0,0,0,0.62)" stroke-width="0.8"/>
<circle cx="458.1" cy="487.9" r="2.7" fill="rgba(45,45,45,0.58)" stroke="rgba(0,0,0,0.62)" stroke-width="0.8"/>
<circle cx="462.8" cy="466.3" r="2.7" fill="rgba(45,45,45,0.58)" stroke="rgba(0,0,0,0.62)" stroke-width="0.8"/>
<circle cx="465.0" cy="488.3" r="2.7" fill="rgba(45,45,45,0.58)" stroke="rgba(0,0,0,0.62)" stroke-width="0.8"/>
<circle cx="461.0" cy="484.9" r="2.7" fill="rgba(45,45,45,0.58)" stroke="rgba(0,0,0,0.62)" stroke-width="0.8"/>
<circle cx="459.8" cy="541.3" r="2.7" fill="rgba(45,45,45,0.58)" stroke="rgba(0,0,0,0.62)" stroke-width="0.8"/>
<circle cx="460.5" cy="472.7" r="2.7" fill="rgba(45,45,45,0.58)" stroke="rgba(0,0,0,0.62)" stroke-width="0.8"/>
<circle cx="463.2" cy="490.7" r="2.7" fill="rgba(45,45,45,0.58)" stroke="rgba(0,0,0,0.62)" stroke-width="0.8"/>
<circle cx="460.9" cy="461.0" r="2.7" fill="rgba(45,45,45,0.58)" stroke="rgba(0,0,0,0.62)" stroke-width="0.8"/>
<circle cx="454.2" cy="486.5" r="2.7" fill="rgba(45,45,45,0.58)" stroke="rgba(0,0,0,0.62)" stroke-width="0.8"/>
<circle cx="461.9" cy="495.0" r="2.7" fill="rgba(45,45,45,0.58)" stroke="rgba(0,0,0,0.62)" stroke-width="0.8"/>
<circle cx="456.0" cy="466.4" r="2.7" fill="rgba(45,45,45,0.58)" stroke="rgba(0,0,0,0.62)" stroke-width="0.8"/>
<circle cx="458.8" cy="468.5" r="2.7" fill="rgba(45,45,45,0.58)" stroke="rgba(0,0,0,0.62)" stroke-width="0.8"/>
<circle cx="459.5" cy="520.7" r="2.7" fill="rgba(45,45,45,0.58)" stroke="rgba(0,0,0,0.62)" stroke-width="0.8"/>
<circle cx="456.8" cy="484.0" r="2.7" fill="rgba(45,45,45,0.58)" stroke="rgba(0,0,0,0.62)" stroke-width="0.8"/>
<circle cx="459.2" cy="465.4" r="2.7" fill="rgba(45,45,45,0.58)" stroke="rgba(0,0,0,0.62)" stroke-width="0.8"/>
<circle cx="459.6" cy="489.9" r="2.7" fill="rgba(45,45,45,0.58)" stroke="rgba(0,0,0,0.62)" stroke-width="0.8"/>
<circle cx="460.6" cy="487.3" r="2.7" fill="rgba(45,45,45,0.58)" stroke="rgba(0,0,0,0.62)" stroke-width="0.8"/>
<circle cx="462.6" cy="489.7" r="2.7" fill="rgba(45,45,45,0.58)" stroke="rgba(0,0,0,0.62)" stroke-width="0.8"/>
<circle cx="458.8" cy="460.6" r="2.7" fill="rgba(45,45,45,0.58)" stroke="rgba(0,0,0,0.62)" stroke-width="0.8"/>
<circle cx="462.0" cy="483.7" r="2.7" fill="rgba(45,45,45,0.58)" stroke="rgba(0,0,0,0.62)" stroke-width="0.8"/>
<circle cx="454.6" cy="490.8" r="2.7" fill="rgba(45,45,45,0.58)" stroke="rgba(0,0,0,0.62)" stroke-width="0.8"/>
<circle cx="460.4" cy="463.8" r="2.7" fill="rgba(45,45,45,0.58)" stroke="rgba(0,0,0,0.62)" stroke-width="0.8"/>
<circle cx="458.9" cy="480.6" r="2.7" fill="rgba(45,45,45,0.58)" stroke="rgba(0,0,0,0.62)" stroke-width="0.8"/>
<circle cx="459.4" cy="494.4" r="2.7" fill="rgba(45,45,45,0.58)" stroke="rgba(0,0,0,0.62)" stroke-width="0.8"/>
<circle cx="457.6" cy="477.9" r="2.7" fill="rgba(45,45,45,0.58)" stroke="rgba(0,0,0,0.62)" stroke-width="0.8"/>
<circle cx="460.0" cy="467.3" r="2.7" fill="rgba(45,45,45,0.58)" stroke="rgba(0,0,0,0.62)" stroke-width="0.8"/>
<circle cx="460.7" cy="493.1" r="2.7" fill="rgba(45,45,45,0.58)" stroke="rgba(0,0,0,0.62)" stroke-width="0.8"/>
<circle cx="459.9" cy="480.3" r="2.7" fill="rgba(45,45,45,0.58)" stroke="rgba(0,0,0,0.62)" stroke-width="0.8"/>
<circle cx="467.8" cy="490.1" r="2.7" fill="rgba(45,45,45,0.58)" stroke="rgba(0,0,0,0.62)" stroke-width="0.8"/>
<circle cx="458.2" cy="471.2" r="2.7" fill="rgba(45,45,45,0.58)" stroke="rgba(0,0,0,0.62)" stroke-width="0.8"/>
<circle cx="461.8" cy="475.6" r="2.7" fill="rgba(45,45,45,0.58)" stroke="rgba(0,0,0,0.62)" stroke-width="0.8"/>
<circle cx="455.8" cy="489.0" r="2.7" fill="rgba(45,45,45,0.58)" stroke="rgba(0,0,0,0.62)" stroke-width="0.8"/>
<circle cx="459.7" cy="473.8" r="2.7" fill="rgba(45,45,45,0.58)" stroke="rgba(0,0,0,0.62)" stroke-width="0.8"/>
<circle cx="459.2" cy="485.7" r="2.7" fill="rgba(45,45,45,0.58)" stroke="rgba(0,0,0,0.62)" stroke-width="0.8"/>
<circle cx="459.9" cy="490.7" r="2.7" fill="rgba(45,45,45,0.58)" stroke="rgba(0,0,0,0.62)" stroke-width="0.8"/>
<circle cx="464.8" cy="485.7" r="2.7" fill="rgba(45,45,45,0.58)" stroke="rgba(0,0,0,0.62)" stroke-width="0.8"/>
<circle cx="451.4" cy="490.1" r="2.7" fill="rgba(45,45,45,0.58)" stroke="rgba(0,0,0,0.62)" stroke-width="0.8"/>
<circle cx="461.9" cy="468.5" r="2.7" fill="rgba(45,45,45,0.58)" stroke="rgba(0,0,0,0.62)" stroke-width="0.8"/>
<circle cx="456.9" cy="490.7" r="2.7" fill="rgba(45,45,45,0.58)" stroke="rgba(0,0,0,0.62)" stroke-width="0.8"/>
<circle cx="459.8" cy="456.5" r="2.7" fill="rgba(45,45,45,0.58)" stroke="rgba(0,0,0,0.62)" stroke-width="0.8"/>
<rect x="327.70" y="444.80" width="182.10" height="101.20" fill="none" stroke="#1a1a1a" stroke-width="1.7"/>
<text x="343.7" y="436.9" font-size="15.8" fill="#231f20" textLength="150.3" lengthAdjust="spacingAndGlyphs">ZAP70 (<tspan font-style="italic">P</tspan> = 2.8e−06)</text>
<line x1="322.70" y1="453.80" x2="327.70" y2="453.80" stroke="#1a1a1a" stroke-width="1.5"/>
<text x="316.3" y="458.8" font-size="16.5" fill="#231f20" text-anchor="end" textLength="31.0" lengthAdjust="spacingAndGlyphs">18.0</text>
<line x1="322.70" y1="475.40" x2="327.70" y2="475.40" stroke="#1a1a1a" stroke-width="1.5"/>
<text x="316.3" y="480.4" font-size="16.5" fill="#231f20" text-anchor="end" textLength="31.0" lengthAdjust="spacingAndGlyphs">16.0</text>
<line x1="322.70" y1="497.20" x2="327.70" y2="497.20" stroke="#1a1a1a" stroke-width="1.5"/>
<text x="316.3" y="502.2" font-size="16.5" fill="#231f20" text-anchor="end" textLength="31.0" lengthAdjust="spacingAndGlyphs">14.0</text>
<line x1="322.70" y1="518.60" x2="327.70" y2="518.60" stroke="#1a1a1a" stroke-width="1.5"/>
<text x="316.3" y="523.6" font-size="16.5" fill="#231f20" text-anchor="end" textLength="31.0" lengthAdjust="spacingAndGlyphs">12.0</text>
<line x1="322.70" y1="540.20" x2="327.70" y2="540.20" stroke="#1a1a1a" stroke-width="1.5"/>
<text x="316.3" y="545.2" font-size="16.5" fill="#231f20" text-anchor="end" textLength="31.0" lengthAdjust="spacingAndGlyphs">10.0</text>
<line x1="377.00" y1="546.00" x2="377.00" y2="550.50" stroke="#1a1a1a" stroke-width="1.5"/>
<text x="375.5" y="569.0" font-size="15.8" fill="#231f20" text-anchor="middle" textLength="50" lengthAdjust="spacingAndGlyphs">U−CLL</text>
<text x="375.5" y="587.8" font-size="15.8" fill="#231f20" text-anchor="middle" textLength="60" lengthAdjust="spacingAndGlyphs">(N = 44)</text>
<line x1="459.80" y1="546.00" x2="459.80" y2="550.50" stroke="#1a1a1a" stroke-width="1.5"/>
<text x="458.3" y="569.0" font-size="15.8" fill="#231f20" text-anchor="middle" textLength="53.5" lengthAdjust="spacingAndGlyphs">M−CLL</text>
<text x="458.3" y="587.8" font-size="15.8" fill="#231f20" text-anchor="middle" textLength="61.5" lengthAdjust="spacingAndGlyphs">(N = 41)</text>
<text transform="translate(278.6,557.4) rotate(-90)" font-size="19" fill="#231f20" textLength="124" lengthAdjust="spacingAndGlyphs">Protein expression</text>
<line x1="118.7" y1="637.0" x2="118.7" y2="662.0" stroke="#2a2a2a" stroke-width="1.2"/>
<line x1="118.7" y1="698.2" x2="118.7" y2="712.0" stroke="#2a2a2a" stroke-width="1.2"/>
<rect x="106.0" y="662.0" width="25.4" height="36.2" fill="#f7a01c" stroke="#1a1a1a" stroke-width="1"/>
<line x1="106.0" y1="679.5" x2="131.4" y2="679.5" stroke="#1a1a1a" stroke-width="2"/>
<circle cx="120.3" cy="674.0" r="2.7" fill="rgba(45,45,45,0.58)" stroke="rgba(0,0,0,0.62)" stroke-width="0.8"/>
<circle cx="122.2" cy="680.9" r="2.7" fill="rgba(45,45,45,0.58)" stroke="rgba(0,0,0,0.62)" stroke-width="0.8"/>
<circle cx="118.7" cy="637.0" r="2.7" fill="rgba(45,45,45,0.58)" stroke="rgba(0,0,0,0.62)" stroke-width="0.8"/>
<circle cx="118.1" cy="656.2" r="2.7" fill="rgba(45,45,45,0.58)" stroke="rgba(0,0,0,0.62)" stroke-width="0.8"/>
<circle cx="118.4" cy="666.7" r="2.7" fill="rgba(45,45,45,0.58)" stroke="rgba(0,0,0,0.62)" stroke-width="0.8"/>
<circle cx="123.0" cy="668.1" r="2.7" fill="rgba(45,45,45,0.58)" stroke="rgba(0,0,0,0.62)" stroke-width="0.8"/>
<circle cx="115.6" cy="663.3" r="2.7" fill="rgba(45,45,45,0.58)" stroke="rgba(0,0,0,0.62)" stroke-width="0.8"/>
<circle cx="118.3" cy="679.9" r="2.7" fill="rgba(45,45,45,0.58)" stroke="rgba(0,0,0,0.62)" stroke-width="0.8"/>
<circle cx="117.7" cy="705.2" r="2.7" fill="rgba(45,45,45,0.58)" stroke="rgba(0,0,0,0.62)" stroke-width="0.8"/>
<circle cx="117.9" cy="712.0" r="2.7" fill="rgba(45,45,45,0.58)" stroke="rgba(0,0,0,0.62)" stroke-width="0.8"/>
<circle cx="123.1" cy="702.4" r="2.7" fill="rgba(45,45,45,0.58)" stroke="rgba(0,0,0,0.62)" stroke-width="0.8"/>
<circle cx="118.0" cy="644.9" r="2.7" fill="rgba(45,45,45,0.58)" stroke="rgba(0,0,0,0.62)" stroke-width="0.8"/>
<circle cx="114.2" cy="658.8" r="2.7" fill="rgba(45,45,45,0.58)" stroke="rgba(0,0,0,0.62)" stroke-width="0.8"/>
<circle cx="116.6" cy="690.0" r="2.7" fill="rgba(45,45,45,0.58)" stroke="rgba(0,0,0,0.62)" stroke-width="0.8"/>
<circle cx="119.5" cy="647.4" r="2.7" fill="rgba(45,45,45,0.58)" stroke="rgba(0,0,0,0.62)" stroke-width="0.8"/>
<circle cx="113.9" cy="669.3" r="2.7" fill="rgba(45,45,45,0.58)" stroke="rgba(0,0,0,0.62)" stroke-width="0.8"/>
<circle cx="122.0" cy="698.5" r="2.7" fill="rgba(45,45,45,0.58)" stroke="rgba(0,0,0,0.62)" stroke-width="0.8"/>
<circle cx="116.5" cy="676.1" r="2.7" fill="rgba(45,45,45,0.58)" stroke="rgba(0,0,0,0.62)" stroke-width="0.8"/>
<circle cx="122.0" cy="661.9" r="2.7" fill="rgba(45,45,45,0.58)" stroke="rgba(0,0,0,0.62)" stroke-width="0.8"/>
<circle cx="121.3" cy="686.9" r="2.7" fill="rgba(45,45,45,0.58)" stroke="rgba(0,0,0,0.62)" stroke-width="0.8"/>
<circle cx="114.0" cy="702.7" r="2.7" fill="rgba(45,45,45,0.58)" stroke="rgba(0,0,0,0.62)" stroke-width="0.8"/>
<circle cx="118.8" cy="670.2" r="2.7" fill="rgba(45,45,45,0.58)" stroke="rgba(0,0,0,0.62)" stroke-width="0.8"/>
<circle cx="117.8" cy="686.1" r="2.7" fill="rgba(45,45,45,0.58)" stroke="rgba(0,0,0,0.62)" stroke-width="0.8"/>
<circle cx="118.8" cy="697.6" r="2.7" fill="rgba(45,45,45,0.58)" stroke="rgba(0,0,0,0.62)" stroke-width="0.8"/>
<circle cx="119.2" cy="653.6" r="2.7" fill="rgba(45,45,45,0.58)" stroke="rgba(0,0,0,0.62)" stroke-width="0.8"/>
<circle cx="116.7" cy="652.4" r="2.7" fill="rgba(45,45,45,0.58)" stroke="rgba(0,0,0,0.62)" stroke-width="0.8"/>
<circle cx="117.1" cy="661.3" r="2.7" fill="rgba(45,45,45,0.58)" stroke="rgba(0,0,0,0.62)" stroke-width="0.8"/>
<circle cx="120.2" cy="708.5" r="2.7" fill="rgba(45,45,45,0.58)" stroke="rgba(0,0,0,0.62)" stroke-width="0.8"/>
<circle cx="119.1" cy="683.5" r="2.7" fill="rgba(45,45,45,0.58)" stroke="rgba(0,0,0,0.62)" stroke-width="0.8"/>
<circle cx="121.9" cy="657.4" r="2.7" fill="rgba(45,45,45,0.58)" stroke="rgba(0,0,0,0.62)" stroke-width="0.8"/>
<circle cx="119.0" cy="705.0" r="2.7" fill="rgba(45,45,45,0.58)" stroke="rgba(0,0,0,0.62)" stroke-width="0.8"/>
<circle cx="120.0" cy="699.5" r="2.7" fill="rgba(45,45,45,0.58)" stroke="rgba(0,0,0,0.62)" stroke-width="0.8"/>
<circle cx="113.7" cy="698.5" r="2.7" fill="rgba(45,45,45,0.58)" stroke="rgba(0,0,0,0.62)" stroke-width="0.8"/>
<circle cx="119.0" cy="661.2" r="2.7" fill="rgba(45,45,45,0.58)" stroke="rgba(0,0,0,0.62)" stroke-width="0.8"/>
<circle cx="117.8" cy="700.4" r="2.7" fill="rgba(45,45,45,0.58)" stroke="rgba(0,0,0,0.62)" stroke-width="0.8"/>
<circle cx="115.2" cy="682.8" r="2.7" fill="rgba(45,45,45,0.58)" stroke="rgba(0,0,0,0.62)" stroke-width="0.8"/>
<circle cx="118.6" cy="691.4" r="2.7" fill="rgba(45,45,45,0.58)" stroke="rgba(0,0,0,0.62)" stroke-width="0.8"/>
<circle cx="113.2" cy="695.2" r="2.7" fill="rgba(45,45,45,0.58)" stroke="rgba(0,0,0,0.62)" stroke-width="0.8"/>
<circle cx="123.7" cy="694.7" r="2.7" fill="rgba(45,45,45,0.58)" stroke="rgba(0,0,0,0.62)" stroke-width="0.8"/>
<circle cx="119.5" cy="678.0" r="2.7" fill="rgba(45,45,45,0.58)" stroke="rgba(0,0,0,0.62)" stroke-width="0.8"/>
<circle cx="116.0" cy="697.7" r="2.7" fill="rgba(45,45,45,0.58)" stroke="rgba(0,0,0,0.62)" stroke-width="0.8"/>
<circle cx="117.2" cy="671.2" r="2.7" fill="rgba(45,45,45,0.58)" stroke="rgba(0,0,0,0.62)" stroke-width="0.8"/>
<circle cx="120.1" cy="690.3" r="2.7" fill="rgba(45,45,45,0.58)" stroke="rgba(0,0,0,0.62)" stroke-width="0.8"/>
<circle cx="120.2" cy="663.7" r="2.7" fill="rgba(45,45,45,0.58)" stroke="rgba(0,0,0,0.62)" stroke-width="0.8"/>
<line x1="201.5" y1="654.2" x2="201.5" y2="683.0" stroke="#2a2a2a" stroke-width="1.2"/>
<line x1="201.5" y1="702.4" x2="201.5" y2="729.0" stroke="#2a2a2a" stroke-width="1.2"/>
<rect x="188.8" y="683.0" width="25.4" height="19.4" fill="#00785b" stroke="#1a1a1a" stroke-width="1"/>
<line x1="188.8" y1="690.9" x2="214.2" y2="690.9" stroke="#1a1a1a" stroke-width="2"/>
<circle cx="199.2" cy="694.2" r="2.7" fill="rgba(45,45,45,0.58)" stroke="rgba(0,0,0,0.62)" stroke-width="0.8"/>
<circle cx="199.8" cy="680.9" r="2.7" fill="rgba(45,45,45,0.58)" stroke="rgba(0,0,0,0.62)" stroke-width="0.8"/>
<circle cx="203.4" cy="682.8" r="2.7" fill="rgba(45,45,45,0.58)" stroke="rgba(0,0,0,0.62)" stroke-width="0.8"/>
<circle cx="205.9" cy="696.3" r="2.7" fill="rgba(45,45,45,0.58)" stroke="rgba(0,0,0,0.62)" stroke-width="0.8"/>
<circle cx="201.0" cy="709.1" r="2.7" fill="rgba(45,45,45,0.58)" stroke="rgba(0,0,0,0.62)" stroke-width="0.8"/>
<circle cx="202.1" cy="690.8" r="2.7" fill="rgba(45,45,45,0.58)" stroke="rgba(0,0,0,0.62)" stroke-width="0.8"/>
<circle cx="202.0" cy="676.2" r="2.7" fill="rgba(45,45,45,0.58)" stroke="rgba(0,0,0,0.62)" stroke-width="0.8"/>
<circle cx="202.7" cy="688.2" r="2.7" fill="rgba(45,45,45,0.58)" stroke="rgba(0,0,0,0.62)" stroke-width="0.8"/>
<circle cx="206.2" cy="690.1" r="2.7" fill="rgba(45,45,45,0.58)" stroke="rgba(0,0,0,0.62)" stroke-width="0.8"/>
<circle cx="200.9" cy="689.2" r="2.7" fill="rgba(45,45,45,0.58)" stroke="rgba(0,0,0,0.62)" stroke-width="0.8"/>
<circle cx="204.8" cy="692.7" r="2.7" fill="rgba(45,45,45,0.58)" stroke="rgba(0,0,0,0.62)" stroke-width="0.8"/>
<circle cx="207.7" cy="683.2" r="2.7" fill="rgba(45,45,45,0.58)" stroke="rgba(0,0,0,0.62)" stroke-width="0.8"/>
<circle cx="204.7" cy="703.7" r="2.7" fill="rgba(45,45,45,0.58)" stroke="rgba(0,0,0,0.62)" stroke-width="0.8"/>
<circle cx="201.1" cy="682.9" r="2.7" fill="rgba(45,45,45,0.58)" stroke="rgba(0,0,0,0.62)" stroke-width="0.8"/>
<circle cx="201.6" cy="684.9" r="2.7" fill="rgba(45,45,45,0.58)" stroke="rgba(0,0,0,0.62)" stroke-width="0.8"/>
<circle cx="201.9" cy="680.4" r="2.7" fill="rgba(45,45,45,0.58)" stroke="rgba(0,0,0,0.62)" stroke-width="0.8"/>
<circle cx="201.5" cy="722.3" r="2.7" fill="rgba(45,45,45,0.58)" stroke="rgba(0,0,0,0.62)" stroke-width="0.8"/>
<circle cx="202.4" cy="702.1" r="2.7" fill="rgba(45,45,45,0.58)" stroke="rgba(0,0,0,0.62)" stroke-width="0.8"/>
<circle cx="204.3" cy="687.5" r="2.7" fill="rgba(45,45,45,0.58)" stroke="rgba(0,0,0,0.62)" stroke-width="0.8"/>
<circle cx="200.4" cy="691.8" r="2.7" fill="rgba(45,45,45,0.58)" stroke="rgba(0,0,0,0.62)" stroke-width="0.8"/>
<circle cx="203.1" cy="694.7" r="2.7" fill="rgba(45,45,45,0.58)" stroke="rgba(0,0,0,0.62)" stroke-width="0.8"/>
<circle cx="201.4" cy="695.5" r="2.7" fill="rgba(45,45,45,0.58)" stroke="rgba(0,0,0,0.62)" stroke-width="0.8"/>
<circle cx="201.9" cy="670.0" r="2.7" fill="rgba(45,45,45,0.58)" stroke="rgba(0,0,0,0.62)" stroke-width="0.8"/>
<circle cx="205.3" cy="682.0" r="2.7" fill="rgba(45,45,45,0.58)" stroke="rgba(0,0,0,0.62)" stroke-width="0.8"/>
<circle cx="198.2" cy="701.9" r="2.7" fill="rgba(45,45,45,0.58)" stroke="rgba(0,0,0,0.62)" stroke-width="0.8"/>
<circle cx="200.8" cy="714.3" r="2.7" fill="rgba(45,45,45,0.58)" stroke="rgba(0,0,0,0.62)" stroke-width="0.8"/>
<circle cx="203.7" cy="700.4" r="2.7" fill="rgba(45,45,45,0.58)" stroke="rgba(0,0,0,0.62)" stroke-width="0.8"/>
<circle cx="201.7" cy="707.5" r="2.7" fill="rgba(45,45,45,0.58)" stroke="rgba(0,0,0,0.62)" stroke-width="0.8"/>
<circle cx="202.6" cy="711.0" r="2.7" fill="rgba(45,45,45,0.58)" stroke="rgba(0,0,0,0.62)" stroke-width="0.8"/>
<circle cx="198.5" cy="704.8" r="2.7" fill="rgba(45,45,45,0.58)" stroke="rgba(0,0,0,0.62)" stroke-width="0.8"/>
<circle cx="200.0" cy="674.4" r="2.7" fill="rgba(45,45,45,0.58)" stroke="rgba(0,0,0,0.62)" stroke-width="0.8"/>
<circle cx="199.7" cy="699.3" r="2.7" fill="rgba(45,45,45,0.58)" stroke="rgba(0,0,0,0.62)" stroke-width="0.8"/>
<circle cx="204.9" cy="678.7" r="2.7" fill="rgba(45,45,45,0.58)" stroke="rgba(0,0,0,0.62)" stroke-width="0.8"/>
<circle cx="200.9" cy="703.3" r="2.7" fill="rgba(45,45,45,0.58)" stroke="rgba(0,0,0,0.62)" stroke-width="0.8"/>
<circle cx="201.8" cy="718.3" r="2.7" fill="rgba(45,45,45,0.58)" stroke="rgba(0,0,0,0.62)" stroke-width="0.8"/>
<circle cx="200.9" cy="677.6" r="2.7" fill="rgba(45,45,45,0.58)" stroke="rgba(0,0,0,0.62)" stroke-width="0.8"/>
<circle cx="197.6" cy="682.7" r="2.7" fill="rgba(45,45,45,0.58)" stroke="rgba(0,0,0,0.62)" stroke-width="0.8"/>
<circle cx="201.5" cy="699.3" r="2.7" fill="rgba(45,45,45,0.58)" stroke="rgba(0,0,0,0.62)" stroke-width="0.8"/>
<circle cx="202.2" cy="729.0" r="2.7" fill="rgba(45,45,45,0.58)" stroke="rgba(0,0,0,0.62)" stroke-width="0.8"/>
<circle cx="196.7" cy="698.7" r="2.7" fill="rgba(45,45,45,0.58)" stroke="rgba(0,0,0,0.62)" stroke-width="0.8"/>
<circle cx="201.5" cy="654.2" r="2.7" fill="rgba(45,45,45,0.58)" stroke="rgba(0,0,0,0.62)" stroke-width="0.8"/>
<circle cx="201.2" cy="654.6" r="2.7" fill="rgba(45,45,45,0.58)" stroke="rgba(0,0,0,0.62)" stroke-width="0.8"/>
<circle cx="199.3" cy="685.1" r="2.7" fill="rgba(45,45,45,0.58)" stroke="rgba(0,0,0,0.62)" stroke-width="0.8"/>
<circle cx="196.8" cy="690.3" r="2.7" fill="rgba(45,45,45,0.58)" stroke="rgba(0,0,0,0.62)" stroke-width="0.8"/>
<circle cx="196.5" cy="679.9" r="2.7" fill="rgba(45,45,45,0.58)" stroke="rgba(0,0,0,0.62)" stroke-width="0.8"/>
<circle cx="197.8" cy="687.7" r="2.7" fill="rgba(45,45,45,0.58)" stroke="rgba(0,0,0,0.62)" stroke-width="0.8"/>
<circle cx="195.0" cy="684.6" r="2.7" fill="rgba(45,45,45,0.58)" stroke="rgba(0,0,0,0.62)" stroke-width="0.8"/>
<rect x="69.00" y="632.30" width="182.40" height="100.90" fill="none" stroke="#1a1a1a" stroke-width="1.7"/>
<text x="83.2" y="623.3" font-size="15.8" fill="#231f20" textLength="145.0" lengthAdjust="spacingAndGlyphs">STAT2 (<tspan font-style="italic">P</tspan> = 3.7e–05)</text>
<line x1="64.00" y1="650.70" x2="69.00" y2="650.70" stroke="#1a1a1a" stroke-width="1.5"/>
<text x="57.6" y="655.7" font-size="16.5" fill="#231f20" text-anchor="end" textLength="31.0" lengthAdjust="spacingAndGlyphs">17.0</text>
<line x1="64.00" y1="670.40" x2="69.00" y2="670.40" stroke="#1a1a1a" stroke-width="1.5"/>
<text x="57.6" y="675.4" font-size="16.5" fill="#231f20" text-anchor="end" textLength="31.0" lengthAdjust="spacingAndGlyphs">16.5</text>
<line x1="64.00" y1="689.90" x2="69.00" y2="689.90" stroke="#1a1a1a" stroke-width="1.5"/>
<text x="57.6" y="694.9" font-size="16.5" fill="#231f20" text-anchor="end" textLength="31.0" lengthAdjust="spacingAndGlyphs">16.0</text>
<line x1="64.00" y1="709.70" x2="69.00" y2="709.70" stroke="#1a1a1a" stroke-width="1.5"/>
<text x="57.6" y="714.7" font-size="16.5" fill="#231f20" text-anchor="end" textLength="31.0" lengthAdjust="spacingAndGlyphs">15.5</text>
<line x1="64.00" y1="729.60" x2="69.00" y2="729.60" stroke="#1a1a1a" stroke-width="1.5"/>
<text x="57.6" y="734.6" font-size="16.5" fill="#231f20" text-anchor="end" textLength="31.0" lengthAdjust="spacingAndGlyphs">15.0</text>
<line x1="118.60" y1="733.20" x2="118.60" y2="737.70" stroke="#1a1a1a" stroke-width="1.5"/>
<text x="117.1" y="756.2" font-size="15.8" fill="#231f20" text-anchor="middle" textLength="50" lengthAdjust="spacingAndGlyphs">U−CLL</text>
<text x="117.1" y="775.0" font-size="15.8" fill="#231f20" text-anchor="middle" textLength="60" lengthAdjust="spacingAndGlyphs">(N = 44)</text>
<line x1="201.50" y1="733.20" x2="201.50" y2="737.70" stroke="#1a1a1a" stroke-width="1.5"/>
<text x="200.0" y="756.2" font-size="15.8" fill="#231f20" text-anchor="middle" textLength="53.5" lengthAdjust="spacingAndGlyphs">M−CLL</text>
<text x="200.0" y="775.0" font-size="15.8" fill="#231f20" text-anchor="middle" textLength="61.5" lengthAdjust="spacingAndGlyphs">(N = 47)</text>
<text transform="translate(19.9,744.8) rotate(-90)" font-size="19" fill="#231f20" textLength="124" lengthAdjust="spacingAndGlyphs">Protein expression</text>
<line x1="377.0" y1="658.8" x2="377.0" y2="673.5" stroke="#2a2a2a" stroke-width="1.2"/>
<line x1="377.0" y1="686.2" x2="377.0" y2="710.3" stroke="#2a2a2a" stroke-width="1.2"/>
<rect x="364.3" y="673.5" width="25.4" height="12.8" fill="#f7a01c" stroke="#1a1a1a" stroke-width="1"/>
<line x1="364.3" y1="680.6" x2="389.7" y2="680.6" stroke="#1a1a1a" stroke-width="2"/>
<circle cx="383.6" cy="685.9" r="2.7" fill="rgba(45,45,45,0.58)" stroke="rgba(0,0,0,0.62)" stroke-width="0.8"/>
<circle cx="373.5" cy="684.4" r="2.7" fill="rgba(45,45,45,0.58)" stroke="rgba(0,0,0,0.62)" stroke-width="0.8"/>
<circle cx="382.8" cy="681.7" r="2.7" fill="rgba(45,45,45,0.58)" stroke="rgba(0,0,0,0.62)" stroke-width="0.8"/>
<circle cx="375.4" cy="683.0" r="2.7" fill="rgba(45,45,45,0.58)" stroke="rgba(0,0,0,0.62)" stroke-width="0.8"/>
<circle cx="378.4" cy="696.0" r="2.7" fill="rgba(45,45,45,0.58)" stroke="rgba(0,0,0,0.62)" stroke-width="0.8"/>
<circle cx="376.6" cy="668.5" r="2.7" fill="rgba(45,45,45,0.58)" stroke="rgba(0,0,0,0.62)" stroke-width="0.8"/>
<circle cx="376.7" cy="693.9" r="2.7" fill="rgba(45,45,45,0.58)" stroke="rgba(0,0,0,0.62)" stroke-width="0.8"/>
<circle cx="376.8" cy="728.1" r="2.7" fill="rgba(45,45,45,0.58)" stroke="rgba(0,0,0,0.62)" stroke-width="0.8"/>
<circle cx="376.7" cy="674.8" r="2.7" fill="rgba(45,45,45,0.58)" stroke="rgba(0,0,0,0.62)" stroke-width="0.8"/>
<circle cx="380.1" cy="679.2" r="2.7" fill="rgba(45,45,45,0.58)" stroke="rgba(0,0,0,0.62)" stroke-width="0.8"/>
<circle cx="370.3" cy="686.1" r="2.7" fill="rgba(45,45,45,0.58)" stroke="rgba(0,0,0,0.62)" stroke-width="0.8"/>
<circle cx="382.2" cy="676.2" r="2.7" fill="rgba(45,45,45,0.58)" stroke="rgba(0,0,0,0.62)" stroke-width="0.8"/>
<circle cx="377.1" cy="678.5" r="2.7" fill="rgba(45,45,45,0.58)" stroke="rgba(0,0,0,0.62)" stroke-width="0.8"/>
<circle cx="377.0" cy="645.6" r="2.7" fill="rgba(45,45,45,0.58)" stroke="rgba(0,0,0,0.62)" stroke-width="0.8"/>
<circle cx="377.1" cy="704.0" r="2.7" fill="rgba(45,45,45,0.58)" stroke="rgba(0,0,0,0.62)" stroke-width="0.8"/>
<circle cx="376.3" cy="681.5" r="2.7" fill="rgba(45,45,45,0.58)" stroke="rgba(0,0,0,0.62)" stroke-width="0.8"/>
<circle cx="378.6" cy="674.8" r="2.7" fill="rgba(45,45,45,0.58)" stroke="rgba(0,0,0,0.62)" stroke-width="0.8"/>
<circle cx="377.3" cy="666.9" r="2.7" fill="rgba(45,45,45,0.58)" stroke="rgba(0,0,0,0.62)" stroke-width="0.8"/>
<circle cx="375.6" cy="665.5" r="2.7" fill="rgba(45,45,45,0.58)" stroke="rgba(0,0,0,0.62)" stroke-width="0.8"/>
<circle cx="372.8" cy="680.0" r="2.7" fill="rgba(45,45,45,0.58)" stroke="rgba(0,0,0,0.62)" stroke-width="0.8"/>
<circle cx="381.7" cy="684.3" r="2.7" fill="rgba(45,45,45,0.58)" stroke="rgba(0,0,0,0.62)" stroke-width="0.8"/>
<circle cx="371.3" cy="677.0" r="2.7" fill="rgba(45,45,45,0.58)" stroke="rgba(0,0,0,0.62)" stroke-width="0.8"/>
<circle cx="373.7" cy="674.2" r="2.7" fill="rgba(45,45,45,0.58)" stroke="rgba(0,0,0,0.62)" stroke-width="0.8"/>
<circle cx="377.3" cy="724.4" r="2.7" fill="rgba(45,45,45,0.58)" stroke="rgba(0,0,0,0.62)" stroke-width="0.8"/>
<circle cx="372.6" cy="671.9" r="2.7" fill="rgba(45,45,45,0.58)" stroke="rgba(0,0,0,0.62)" stroke-width="0.8"/>
<circle cx="377.8" cy="682.6" r="2.7" fill="rgba(45,45,45,0.58)" stroke="rgba(0,0,0,0.62)" stroke-width="0.8"/>
<circle cx="375.7" cy="697.6" r="2.7" fill="rgba(45,45,45,0.58)" stroke="rgba(0,0,0,0.62)" stroke-width="0.8"/>
<circle cx="380.4" cy="671.8" r="2.7" fill="rgba(45,45,45,0.58)" stroke="rgba(0,0,0,0.62)" stroke-width="0.8"/>
<circle cx="376.9" cy="710.3" r="2.7" fill="rgba(45,45,45,0.58)" stroke="rgba(0,0,0,0.62)" stroke-width="0.8"/>
<circle cx="378.4" cy="680.1" r="2.7" fill="rgba(45,45,45,0.58)" stroke="rgba(0,0,0,0.62)" stroke-width="0.8"/>
<circle cx="377.4" cy="691.7" r="2.7" fill="rgba(45,45,45,0.58)" stroke="rgba(0,0,0,0.62)" stroke-width="0.8"/>
<circle cx="374.9" cy="687.3" r="2.7" fill="rgba(45,45,45,0.58)" stroke="rgba(0,0,0,0.62)" stroke-width="0.8"/>
<circle cx="374.9" cy="678.6" r="2.7" fill="rgba(45,45,45,0.58)" stroke="rgba(0,0,0,0.62)" stroke-width="0.8"/>
<circle cx="377.1" cy="686.6" r="2.7" fill="rgba(45,45,45,0.58)" stroke="rgba(0,0,0,0.62)" stroke-width="0.8"/>
<circle cx="377.3" cy="672.5" r="2.7" fill="rgba(45,45,45,0.58)" stroke="rgba(0,0,0,0.62)" stroke-width="0.8"/>
<circle cx="376.8" cy="685.1" r="2.7" fill="rgba(45,45,45,0.58)" stroke="rgba(0,0,0,0.62)" stroke-width="0.8"/>
<circle cx="374.3" cy="689.1" r="2.7" fill="rgba(45,45,45,0.58)" stroke="rgba(0,0,0,0.62)" stroke-width="0.8"/>
<circle cx="377.6" cy="662.4" r="2.7" fill="rgba(45,45,45,0.58)" stroke="rgba(0,0,0,0.62)" stroke-width="0.8"/>
<circle cx="376.6" cy="658.8" r="2.7" fill="rgba(45,45,45,0.58)" stroke="rgba(0,0,0,0.62)" stroke-width="0.8"/>
<circle cx="375.5" cy="672.9" r="2.7" fill="rgba(45,45,45,0.58)" stroke="rgba(0,0,0,0.62)" stroke-width="0.8"/>
<circle cx="380.1" cy="673.2" r="2.7" fill="rgba(45,45,45,0.58)" stroke="rgba(0,0,0,0.62)" stroke-width="0.8"/>
<circle cx="378.9" cy="688.6" r="2.7" fill="rgba(45,45,45,0.58)" stroke="rgba(0,0,0,0.62)" stroke-width="0.8"/>
<circle cx="379.5" cy="684.6" r="2.7" fill="rgba(45,45,45,0.58)" stroke="rgba(0,0,0,0.62)" stroke-width="0.8"/>
<circle cx="371.2" cy="681.9" r="2.7" fill="rgba(45,45,45,0.58)" stroke="rgba(0,0,0,0.62)" stroke-width="0.8"/>
<line x1="460.3" y1="636.0" x2="460.3" y2="648.2" stroke="#2a2a2a" stroke-width="1.2"/>
<line x1="460.3" y1="670.6" x2="460.3" y2="700.4" stroke="#2a2a2a" stroke-width="1.2"/>
<rect x="447.6" y="648.2" width="25.4" height="22.4" fill="#00785b" stroke="#1a1a1a" stroke-width="1"/>
<line x1="447.6" y1="660.8" x2="473.0" y2="660.8" stroke="#1a1a1a" stroke-width="2"/>
<circle cx="460.4" cy="656.3" r="2.7" fill="rgba(45,45,45,0.58)" stroke="rgba(0,0,0,0.62)" stroke-width="0.8"/>
<circle cx="453.9" cy="671.7" r="2.7" fill="rgba(45,45,45,0.58)" stroke="rgba(0,0,0,0.62)" stroke-width="0.8"/>
<circle cx="460.1" cy="682.3" r="2.7" fill="rgba(45,45,45,0.58)" stroke="rgba(0,0,0,0.62)" stroke-width="0.8"/>
<circle cx="459.7" cy="662.1" r="2.7" fill="rgba(45,45,45,0.58)" stroke="rgba(0,0,0,0.62)" stroke-width="0.8"/>
<circle cx="465.3" cy="663.9" r="2.7" fill="rgba(45,45,45,0.58)" stroke="rgba(0,0,0,0.62)" stroke-width="0.8"/>
<circle cx="462.6" cy="673.3" r="2.7" fill="rgba(45,45,45,0.58)" stroke="rgba(0,0,0,0.62)" stroke-width="0.8"/>
<circle cx="461.5" cy="661.9" r="2.7" fill="rgba(45,45,45,0.58)" stroke="rgba(0,0,0,0.62)" stroke-width="0.8"/>
<circle cx="455.3" cy="664.3" r="2.7" fill="rgba(45,45,45,0.58)" stroke="rgba(0,0,0,0.62)" stroke-width="0.8"/>
<circle cx="461.3" cy="686.3" r="2.7" fill="rgba(45,45,45,0.58)" stroke="rgba(0,0,0,0.62)" stroke-width="0.8"/>
<circle cx="461.1" cy="645.2" r="2.7" fill="rgba(45,45,45,0.58)" stroke="rgba(0,0,0,0.62)" stroke-width="0.8"/>
<circle cx="464.5" cy="654.0" r="2.7" fill="rgba(45,45,45,0.58)" stroke="rgba(0,0,0,0.62)" stroke-width="0.8"/>
<circle cx="459.5" cy="692.0" r="2.7" fill="rgba(45,45,45,0.58)" stroke="rgba(0,0,0,0.62)" stroke-width="0.8"/>
<circle cx="460.7" cy="647.9" r="2.7" fill="rgba(45,45,45,0.58)" stroke="rgba(0,0,0,0.62)" stroke-width="0.8"/>
<circle cx="461.5" cy="641.2" r="2.7" fill="rgba(45,45,45,0.58)" stroke="rgba(0,0,0,0.62)" stroke-width="0.8"/>
<circle cx="465.2" cy="647.2" r="2.7" fill="rgba(45,45,45,0.58)" stroke="rgba(0,0,0,0.62)" stroke-width="0.8"/>
<circle cx="454.1" cy="647.7" r="2.7" fill="rgba(45,45,45,0.58)" stroke="rgba(0,0,0,0.62)" stroke-width="0.8"/>
<circle cx="460.3" cy="636.0" r="2.7" fill="rgba(45,45,45,0.58)" stroke="rgba(0,0,0,0.62)" stroke-width="0.8"/>
<circle cx="460.0" cy="653.0" r="2.7" fill="rgba(45,45,45,0.58)" stroke="rgba(0,0,0,0.62)" stroke-width="0.8"/>
<circle cx="466.5" cy="671.5" r="2.7" fill="rgba(45,45,45,0.58)" stroke="rgba(0,0,0,0.62)" stroke-width="0.8"/>
<circle cx="460.4" cy="671.7" r="2.7" fill="rgba(45,45,45,0.58)" stroke="rgba(0,0,0,0.62)" stroke-width="0.8"/>
<circle cx="459.3" cy="646.5" r="2.7" fill="rgba(45,45,45,0.58)" stroke="rgba(0,0,0,0.62)" stroke-width="0.8"/>
<circle cx="460.3" cy="700.4" r="2.7" fill="rgba(45,45,45,0.58)" stroke="rgba(0,0,0,0.62)" stroke-width="0.8"/>
<circle cx="458.9" cy="666.0" r="2.7" fill="rgba(45,45,45,0.58)" stroke="rgba(0,0,0,0.62)" stroke-width="0.8"/>
<circle cx="460.6" cy="680.0" r="2.7" fill="rgba(45,45,45,0.58)" stroke="rgba(0,0,0,0.62)" stroke-width="0.8"/>
<circle cx="456.9" cy="660.7" r="2.7" fill="rgba(45,45,45,0.58)" stroke="rgba(0,0,0,0.62)" stroke-width="0.8"/>
<circle cx="458.1" cy="672.4" r="2.7" fill="rgba(45,45,45,0.58)" stroke="rgba(0,0,0,0.62)" stroke-width="0.8"/>
<circle cx="462.5" cy="668.9" r="2.7" fill="rgba(45,45,45,0.58)" stroke="rgba(0,0,0,0.62)" stroke-width="0.8"/>
<circle cx="461.7" cy="652.2" r="2.7" fill="rgba(45,45,45,0.58)" stroke="rgba(0,0,0,0.62)" stroke-width="0.8"/>
<circle cx="458.4" cy="675.8" r="2.7" fill="rgba(45,45,45,0.58)" stroke="rgba(0,0,0,0.62)" stroke-width="0.8"/>
<circle cx="455.9" cy="655.4" r="2.7" fill="rgba(45,45,45,0.58)" stroke="rgba(0,0,0,0.62)" stroke-width="0.8"/>
<circle cx="458.8" cy="658.2" r="2.7" fill="rgba(45,45,45,0.58)" stroke="rgba(0,0,0,0.62)" stroke-width="0.8"/>
<circle cx="464.0" cy="649.0" r="2.7" fill="rgba(45,45,45,0.58)" stroke="rgba(0,0,0,0.62)" stroke-width="0.8"/>
<circle cx="456.9" cy="650.1" r="2.7" fill="rgba(45,45,45,0.58)" stroke="rgba(0,0,0,0.62)" stroke-width="0.8"/>
<circle cx="464.4" cy="667.0" r="2.7" fill="rgba(45,45,45,0.58)" stroke="rgba(0,0,0,0.62)" stroke-width="0.8"/>
<circle cx="457.3" cy="643.7" r="2.7" fill="rgba(45,45,45,0.58)" stroke="rgba(0,0,0,0.62)" stroke-width="0.8"/>
<circle cx="460.2" cy="669.2" r="2.7" fill="rgba(45,45,45,0.58)" stroke="rgba(0,0,0,0.62)" stroke-width="0.8"/>
<circle cx="462.7" cy="659.9" r="2.7" fill="rgba(45,45,45,0.58)" stroke="rgba(0,0,0,0.62)" stroke-width="0.8"/>
<circle cx="458.4" cy="648.2" r="2.7" fill="rgba(45,45,45,0.58)" stroke="rgba(0,0,0,0.62)" stroke-width="0.8"/>
<circle cx="457.2" cy="668.1" r="2.7" fill="rgba(45,45,45,0.58)" stroke="rgba(0,0,0,0.62)" stroke-width="0.8"/>
<circle cx="461.0" cy="665.2" r="2.7" fill="rgba(45,45,45,0.58)" stroke="rgba(0,0,0,0.62)" stroke-width="0.8"/>
<circle cx="459.3" cy="640.0" r="2.7" fill="rgba(45,45,45,0.58)" stroke="rgba(0,0,0,0.62)" stroke-width="0.8"/>
<rect x="327.40" y="632.30" width="182.90" height="100.90" fill="none" stroke="#1a1a1a" stroke-width="1.7"/>
<text x="339.8" y="623.3" font-size="15.8" fill="#231f20" textLength="152.5" lengthAdjust="spacingAndGlyphs">BANK1 (<tspan font-style="italic">P</tspan> = 1.2e–08)</text>
<line x1="322.40" y1="645.75" x2="327.40" y2="645.75" stroke="#1a1a1a" stroke-width="1.5"/>
<text x="316.0" y="650.8" font-size="16.5" fill="#231f20" text-anchor="end" textLength="31.0" lengthAdjust="spacingAndGlyphs">18.0</text>
<line x1="322.40" y1="673.75" x2="327.40" y2="673.75" stroke="#1a1a1a" stroke-width="1.5"/>
<text x="316.0" y="678.8" font-size="16.5" fill="#231f20" text-anchor="end" textLength="31.0" lengthAdjust="spacingAndGlyphs">16.0</text>
<line x1="322.40" y1="701.50" x2="327.40" y2="701.50" stroke="#1a1a1a" stroke-width="1.5"/>
<text x="316.0" y="706.5" font-size="16.5" fill="#231f20" text-anchor="end" textLength="31.0" lengthAdjust="spacingAndGlyphs">14.0</text>
<line x1="322.40" y1="729.25" x2="327.40" y2="729.25" stroke="#1a1a1a" stroke-width="1.5"/>
<text x="316.0" y="734.2" font-size="16.5" fill="#231f20" text-anchor="end" textLength="31.0" lengthAdjust="spacingAndGlyphs">12.0</text>
<line x1="376.90" y1="733.20" x2="376.90" y2="737.70" stroke="#1a1a1a" stroke-width="1.5"/>
<text x="375.4" y="756.2" font-size="15.8" fill="#231f20" text-anchor="middle" textLength="50" lengthAdjust="spacingAndGlyphs">U−CLL</text>
<text x="375.4" y="775.0" font-size="15.8" fill="#231f20" text-anchor="middle" textLength="60" lengthAdjust="spacingAndGlyphs">(N = 44)</text>
<line x1="459.80" y1="733.20" x2="459.80" y2="737.70" stroke="#1a1a1a" stroke-width="1.5"/>
<text x="458.3" y="756.2" font-size="15.8" fill="#231f20" text-anchor="middle" textLength="53.5" lengthAdjust="spacingAndGlyphs">M−CLL</text>
<text x="458.3" y="775.0" font-size="15.8" fill="#231f20" text-anchor="middle" textLength="61.5" lengthAdjust="spacingAndGlyphs">(N = 41)</text>
<text transform="translate(278.3,744.8) rotate(-90)" font-size="19" fill="#231f20" textLength="124" lengthAdjust="spacingAndGlyphs">Protein expression</text>
</svg></body></html>
